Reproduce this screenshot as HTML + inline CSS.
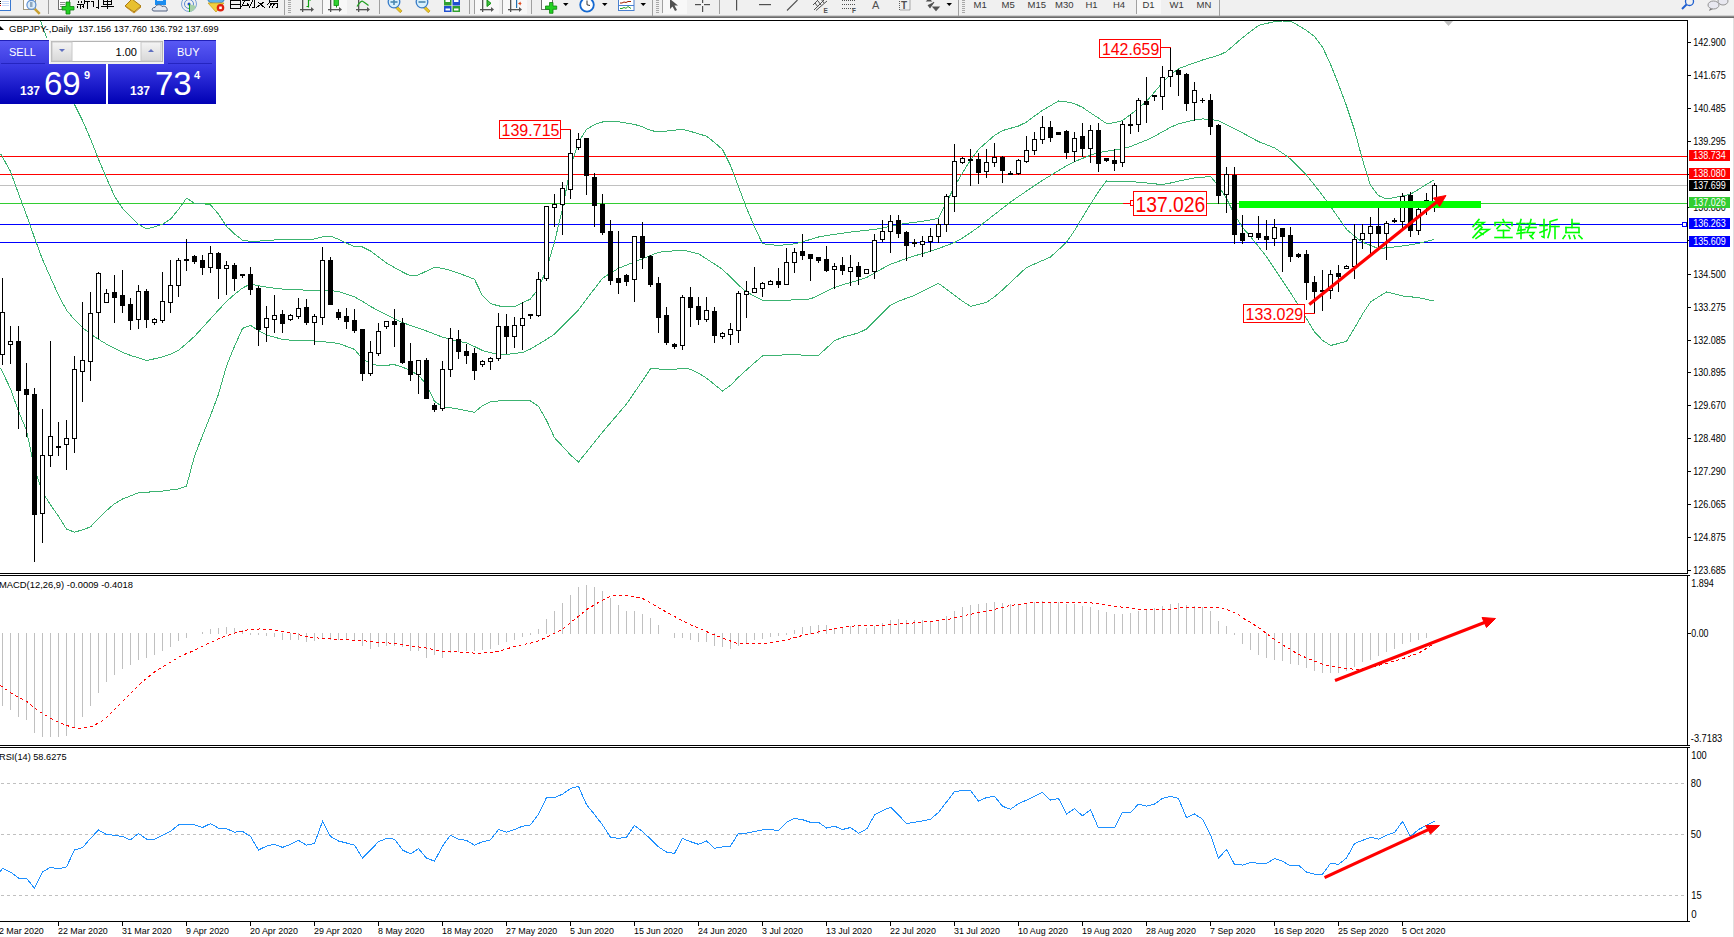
<!DOCTYPE html><html><head><meta charset="utf-8"><title>GBPJPY Daily</title><style>
html,body{margin:0;padding:0;width:1734px;height:937px;overflow:hidden;background:#fff;}
svg{position:absolute;left:0;top:0;display:block}
text{font-family:"Liberation Sans",sans-serif}
</style></head><body>
<svg width="1734" height="937" viewBox="0 0 1734 937">
<defs><linearGradient id="gSell" x1="0" y1="0" x2="0" y2="1"><stop offset="0" stop-color="#5a5af5"/><stop offset="1" stop-color="#3a3ae0"/></linearGradient><linearGradient id="gPrice" x1="0" y1="0" x2="0" y2="1"><stop offset="0" stop-color="#3c3ce6"/><stop offset="1" stop-color="#0000b4"/></linearGradient><linearGradient id="gBtn" x1="0" y1="0" x2="0" y2="1"><stop offset="0" stop-color="#f4f4f4"/><stop offset="1" stop-color="#d8d8d8"/></linearGradient></defs>
<rect x="0" y="0" width="1734" height="15" fill="#f0f0f0"/>
<rect x="0" y="15" width="1734" height="1" fill="#d0d0d0"/>
<rect x="0" y="16" width="1734" height="1" fill="#8c8c8c"/>
<rect x="0" y="17" width="1734" height="1" fill="#6a6a6a"/>
<rect x="-1" y="-4" width="11.5" height="14.5" fill="#fff" stroke="#3a78d0" stroke-width="1"/>
<rect x="2" y="1.0" width="7" height="1" fill="#c8d8f8"/>
<rect x="2" y="3.0" width="7" height="1" fill="#c8d8f8"/>
<rect x="2" y="5.0" width="7" height="1" fill="#c8d8f8"/>
<rect x="0" y="1" width="1" height="1" fill="#000"/><rect x="0" y="3" width="1" height="1" fill="#000"/><rect x="0" y="5" width="1" height="1" fill="#f00"/>
<rect x="23.5" y="-3.5" width="12" height="13" fill="#fff" stroke="#a09880" stroke-width="1"/>
<rect x="36" y="8" width="2.5" height="7" fill="#c8a030" transform="rotate(-45 37.2 11.5)"/>
<circle cx="31.4" cy="4.8" r="4.5" fill="#dcecf8" stroke="#6090d0" stroke-width="1.2"/>
<rect x="30" y="2" width="2.5" height="5" fill="#90a8c0"/>
<rect x="48" y="0" width="1" height="14" fill="#a0a0a0"/>
<rect x="58.5" y="-3.5" width="11" height="13" fill="#fff" stroke="#707070" stroke-width="1"/>
<rect x="60" y="2" width="5" height="1" fill="#909090"/>
<rect x="60" y="4" width="5" height="1" fill="#909090"/>
<rect x="60" y="6" width="5" height="1" fill="#909090"/>
<path d="M66,2 h4 v4.5 h4 v3.5 h-4 v4 h-4 v-4 h-4 v-3.5 h4 z" fill="#22d022" stroke="#108010" stroke-width="0.8"/>
<g transform="translate(77,0) scale(1.0)" fill="none" stroke="#000000" stroke-width="1.0" stroke-linecap="square" shape-rendering="crispEdges"><path d="M2,-3 L4,-3"/><path d="M0,-1 L6,-1"/><path d="M1,1 L2,3"/><path d="M5,1 L4,3"/><path d="M0,4 L6,4"/><path d="M3,4 L3,8"/><path d="M1,6 L0,8"/><path d="M5,6 L6,7"/><path d="M11,-4 L7,-2 L7,4 L6,8"/><path d="M7,1 L12,1"/><path d="M10,1 L10,8"/></g>
<g transform="translate(91,0) scale(1.0)" fill="none" stroke="#000000" stroke-width="1.0" stroke-linecap="square" shape-rendering="crispEdges"><path d="M1,-3 L2,-2"/><path d="M0,1 L2,1 L2,7 L3,6"/><path d="M4,-2 L10,-2"/><path d="M7,-2 L7,8 L5,7"/></g>
<g transform="translate(101,0) scale(1.0)" fill="none" stroke="#000000" stroke-width="1.0" stroke-linecap="square" shape-rendering="crispEdges"><path d="M2,-2 L10,-2 L10,4 L2,4 Z"/><path d="M2,1 L10,1"/><path d="M6,-2 L6,8"/><path d="M0,6 L12,6"/></g>
<path d="M125,6 L132,-1 L141,6 L134,12 Z" fill="#e8c030" stroke="#a87810" stroke-width="1"/>
<path d="M126,7 L134,13 L141,7" fill="none" stroke="#c89020" stroke-width="1"/>
<rect x="155" y="-4" width="11" height="9" fill="#1a8cf0"/>
<rect x="157" y="0" width="6" height="1" fill="#d0e8ff"/>
<path d="M154,11 C151,11 152,7 155,7.5 C156,4 161,4 162,6.5 C165,5 168,8 167,11 Z" fill="#e4e8f0" stroke="#506080" stroke-width="1"/>
<circle cx="189" cy="4" r="7.5" fill="none" stroke="#7aa0d8" stroke-width="1"/>
<circle cx="189" cy="4" r="4.5" fill="none" stroke="#5a88d0" stroke-width="1"/>
<path d="M189,4 L189,12 A8,8 0 0 0 196,6 Z" fill="#a8d0a8"/>
<circle cx="189" cy="4" r="1.5" fill="#2050d0"/>
<rect x="189" y="4" width="1" height="8" fill="#20a020"/>
<ellipse cx="216" cy="0" rx="8" ry="3.5" fill="#60b0e8" stroke="#3080c0" stroke-width="1"/>
<path d="M208,3 L224,3 L216,12 Z" fill="#f0d040" stroke="#c8a020" stroke-width="0.8"/>
<circle cx="220.5" cy="7.8" r="3.8" fill="#e02010"/>
<rect x="219.2" y="6.5" width="2.6" height="2.6" fill="#fff"/>
<g transform="translate(229,0) scale(1.0)" fill="none" stroke="#000000" stroke-width="1.0" stroke-linecap="square" shape-rendering="crispEdges"><path d="M1,-3 L11,-3 L11,8 L1,8 Z"/><path d="M1,0.5 L11,0.5"/><path d="M1,4 L11,4"/></g>
<g transform="translate(242,0) scale(1.0)" fill="none" stroke="#000000" stroke-width="1.0" stroke-linecap="square" shape-rendering="crispEdges"><path d="M1,-3 L6,-3"/><path d="M0,0 L7,0"/><path d="M3,0 L0,6 L6,5"/><path d="M5,3 L7,6"/><path d="M8,-1 L12,-1 L12,7 L10,7"/><path d="M10,-4 L10,2 L7,8"/></g>
<g transform="translate(255,0) scale(1.0)" fill="none" stroke="#000000" stroke-width="1.0" stroke-linecap="square" shape-rendering="crispEdges"><path d="M0,-3 L12,-3"/><path d="M4,-2 L2,0"/><path d="M8,-2 L10,0"/><path d="M3,2 L10,8"/><path d="M9,2 L1,8"/></g>
<g transform="translate(267,0) scale(1.0)" fill="none" stroke="#000000" stroke-width="1.0" stroke-linecap="square" shape-rendering="crispEdges"><path d="M2,-4 L10,-4 L10,1 L2,1 Z"/><path d="M4,1 L0,5"/><path d="M3,3 L11,3 L10,8 L9,7"/><path d="M5,3 L2,8"/><path d="M8,3 L5,8"/></g>
<rect x="284" y="0" width="1" height="15" fill="#a0a0a0"/>
<rect x="288" y="0" width="3" height="1" fill="#a8a8a8"/><rect x="288" y="2" width="3" height="1" fill="#a8a8a8"/><rect x="288" y="4" width="3" height="1" fill="#a8a8a8"/><rect x="288" y="6" width="3" height="1" fill="#a8a8a8"/><rect x="288" y="8" width="3" height="1" fill="#a8a8a8"/><rect x="288" y="10" width="3" height="1" fill="#a8a8a8"/><rect x="288" y="12" width="3" height="1" fill="#a8a8a8"/>
<rect x="302" y="-1" width="1.3" height="13" fill="#555555"/><rect x="300" y="9" width="12" height="1.3" fill="#555555"/><path d="M311,7 L314,9.6 L311,12 Z" fill="#555555"/>
<path d="M306.5,6.5 L308.5,6.5 M308.5,7.5 L308.5,0 L311,0" fill="none" stroke="#10a010" stroke-width="1.2"/>
<rect x="323" y="0" width="24" height="14" fill="#f8f8f8"/>
<rect x="322" y="0" width="1" height="14" fill="#a0a0a0"/>
<rect x="330" y="-1" width="1.3" height="13" fill="#555555"/><rect x="328" y="9" width="12" height="1.3" fill="#555555"/><path d="M339,7 L342,9.6 L339,12 Z" fill="#555555"/>
<rect x="334" y="-2" width="4.5" height="7.5" fill="#30d030" stroke="#109010" stroke-width="0.8"/><rect x="336" y="5" width="1" height="2.5" fill="#109010"/>
<rect x="358" y="-1" width="1.3" height="13" fill="#555555"/><rect x="356" y="9" width="12" height="1.3" fill="#555555"/><path d="M367,7 L370,9.6 L367,12 Z" fill="#555555"/>
<path d="M357,6.5 Q361,0 363,1.5 Q366,3.5 368.5,5.5" fill="none" stroke="#20a020" stroke-width="1.2"/>
<rect x="379" y="0" width="1" height="14" fill="#a0a0a0"/>
<rect x="397" y="5" width="2.6" height="8" fill="#e8c820" stroke="#b08010" stroke-width="0.6" transform="rotate(-45 398.3 9)"/>
<circle cx="394" cy="2" r="5.8" fill="#d8f0fc" stroke="#3a7cc8" stroke-width="1.3"/>
<rect x="390.5" y="1.2" width="7" height="1.6" fill="#4a88b0"/>
<rect x="393.2" y="-2" width="1.6" height="7" fill="#4a88b0"/>
<rect x="425" y="5" width="2.6" height="8" fill="#e8c820" stroke="#b08010" stroke-width="0.6" transform="rotate(-45 426.3 9)"/>
<circle cx="422" cy="2" r="5.8" fill="#d8f0fc" stroke="#3a7cc8" stroke-width="1.3"/>
<rect x="418.5" y="1.2" width="7" height="1.6" fill="#4a88b0"/>
<rect x="444" y="-3" width="7.5" height="8.5" fill="#30a030"/><rect x="452.5" y="-3" width="7.5" height="8.5" fill="#2050d0"/>
<rect x="444" y="6" width="7.5" height="6" fill="#2050d0"/><rect x="452.5" y="6" width="7.5" height="6" fill="#30a030"/>
<rect x="445.5" y="8.5" width="4.5" height="2" fill="#fff"/><rect x="454" y="8.5" width="4.5" height="2" fill="#fff"/><rect x="445.5" y="0" width="4.5" height="2" fill="#fff"/><rect x="454" y="0" width="4.5" height="2" fill="#fff"/>
<rect x="469" y="0" width="1" height="14" fill="#a0a0a0"/>
<rect x="475" y="0" width="24" height="14" fill="#f8f8f8"/>
<rect x="474" y="0" width="1" height="14" fill="#a0a0a0"/>
<rect x="482" y="-1" width="1.3" height="13" fill="#555555"/><rect x="480" y="9" width="12" height="1.3" fill="#555555"/><path d="M491,7 L494,9.6 L491,12 Z" fill="#555555"/>
<path d="M487,0 L487,6.5 L491,3.3 Z" fill="#40c040" stroke="#109010" stroke-width="1"/>
<rect x="502" y="0" width="1" height="14" fill="#a0a0a0"/>
<rect x="503" y="0" width="24" height="14" fill="#f8f8f8"/>
<rect x="510" y="-1" width="1.3" height="13" fill="#555555"/><rect x="508" y="9" width="12" height="1.3" fill="#555555"/><path d="M519,7 L522,9.6 L519,12 Z" fill="#555555"/>
<rect x="516" y="-1" width="1.2" height="9" fill="#2070b0"/><path d="M518,3.5 L521,1.5 L520.5,3 L522,3.5 L520.5,4 L521,5.5 Z" fill="#e04010"/>
<rect x="531" y="0" width="1" height="14" fill="#a0a0a0"/>
<rect x="541.5" y="-3.5" width="11" height="13" fill="#fff" stroke="#707070" stroke-width="1"/>
<path d="M549.5,2.5 h3.5 v3.5 h3.7 v3.3 h-3.7 v4 h-3.5 v-4 h-4 v-3.3 h4 z" fill="#22d022" stroke="#108010" stroke-width="0.8"/>
<path d="M563,3 L568.5,3 L565.75,6 Z" fill="#000"/>
<circle cx="587" cy="4.8" r="6.8" fill="#fff" stroke="#1468d0" stroke-width="1.8"/>
<path d="M587,0.5 L587,4.8 L590,5.5" fill="none" stroke="#333" stroke-width="1"/>
<path d="M602,3 L607.5,3 L604.75,6 Z" fill="#000"/>
<rect x="618.5" y="-2.5" width="15.5" height="13" fill="#fff" stroke="#4a80d0" stroke-width="1"/>
<rect x="619" y="5" width="15" height="1" fill="#4a80d0"/>
<path d="M620,3 L622,3 L624,2 L626,2.5 L628,1.5 L631,1.5" fill="none" stroke="#a02000" stroke-width="1"/>
<path d="M620,8.5 L622,8.5 L624,7.5 L626,8.3 L628,6.5 L631,8.5" fill="none" stroke="#20a020" stroke-width="1"/>
<path d="M640.5,3 L646.0,3 L643.25,6 Z" fill="#000"/>
<rect x="652" y="0" width="1" height="16" fill="#a0a0a0"/>
<rect x="656" y="0" width="3" height="1" fill="#a8a8a8"/><rect x="656" y="2" width="3" height="1" fill="#a8a8a8"/><rect x="656" y="4" width="3" height="1" fill="#a8a8a8"/><rect x="656" y="6" width="3" height="1" fill="#a8a8a8"/><rect x="656" y="8" width="3" height="1" fill="#a8a8a8"/><rect x="656" y="10" width="3" height="1" fill="#a8a8a8"/><rect x="656" y="12" width="3" height="1" fill="#a8a8a8"/>
<rect x="663" y="0" width="24" height="14" fill="#f8f8f8"/>
<rect x="662" y="0" width="1" height="13" fill="#a0a0a0"/>
<path d="M670,-1 L670,9 L672.5,6.5 L675,11 L677,10 L674.5,5.5 L678,5.5 Z" fill="#505050"/>
<rect x="695" y="4" width="6" height="1.2" fill="#505050"/><rect x="704" y="4" width="6" height="1.2" fill="#505050"/>
<rect x="702" y="-1" width="1.2" height="4" fill="#505050"/><rect x="702" y="6" width="1.2" height="6" fill="#505050"/>
<rect x="719" y="0" width="1" height="14" fill="#a0a0a0"/>
<rect x="736" y="-1" width="1.2" height="11.5" fill="#505050"/>
<rect x="759" y="4" width="12" height="1.2" fill="#505050"/>
<path d="M787,10.5 L797.5,0" fill="none" stroke="#505050" stroke-width="1.1"/>
<path d="M813,5 L819,-1 M814,10 L825,-1 M816,10.5 L827,1 M815,3 L818,7 M818,1 L821,5 M821,-1 L824,3" fill="none" stroke="#505050" stroke-width="1"/>
<text x="823.5" y="13" font-size="6.5" font-weight="bold" fill="#505050">E</text>
<line x1="842" y1="0.5" x2="855" y2="0.5" stroke="#505050" stroke-width="1" stroke-dasharray="1,1"/>
<line x1="842" y1="4.5" x2="855" y2="4.5" stroke="#505050" stroke-width="1" stroke-dasharray="1,1"/>
<line x1="842" y1="8.5" x2="855" y2="8.5" stroke="#505050" stroke-width="1" stroke-dasharray="1,1"/>
<text x="852" y="13" font-size="6.5" font-weight="bold" fill="#505050">F</text>
<text x="872" y="9" font-size="11" fill="#505050">A</text>
<rect x="899.5" y="-1" width="10.5" height="11" fill="none" stroke="#606060" stroke-width="1" stroke-dasharray="1,1"/>
<text x="901" y="9" font-size="10" font-weight="bold" fill="#505050">T</text>
<path d="M927,1 L931,1 L929,-1 Z M928,5 L930,7.5 L934,2 M933,7 L939,7 L936,10.5 Z" fill="#505050" stroke="#505050" stroke-width="1.1"/>
<path d="M946.5,3 L952.0,3 L949.25,6 Z" fill="#000"/>
<rect x="958" y="0" width="1" height="16" fill="#a0a0a0"/>
<rect x="962" y="0" width="3" height="1" fill="#a8a8a8"/><rect x="962" y="2" width="3" height="1" fill="#a8a8a8"/><rect x="962" y="4" width="3" height="1" fill="#a8a8a8"/><rect x="962" y="6" width="3" height="1" fill="#a8a8a8"/><rect x="962" y="8" width="3" height="1" fill="#a8a8a8"/><rect x="962" y="10" width="3" height="1" fill="#a8a8a8"/><rect x="962" y="12" width="3" height="1" fill="#a8a8a8"/>
<text x="973.5" y="8" font-size="9.5" fill="#383838">M1</text>
<text x="1001.5" y="8" font-size="9.5" fill="#383838">M5</text>
<text x="1027.5" y="8" font-size="9.5" fill="#383838">M15</text>
<text x="1055" y="8" font-size="9.5" fill="#383838">M30</text>
<text x="1085.5" y="8" font-size="9.5" fill="#383838">H1</text>
<text x="1113" y="8" font-size="9.5" fill="#383838">H4</text>
<rect x="1136" y="0" width="1" height="14" fill="#a0a0a0"/>
<rect x="1137" y="0" width="24" height="14" fill="#f8f8f8"/>
<text x="1142.5" y="8" font-size="9.5" fill="#383838">D1</text>
<text x="1169.5" y="8" font-size="9.5" fill="#383838">W1</text>
<text x="1196.5" y="8" font-size="9.5" fill="#383838">MN</text>
<rect x="1219" y="0" width="1" height="16" fill="#a0a0a0"/>
<circle cx="1689.5" cy="1.5" r="4" fill="none" stroke="#2060d0" stroke-width="1.3"/>
<path d="M1686.5,4.5 L1682,9" fill="none" stroke="#2060d0" stroke-width="2"/>
<ellipse cx="1723" cy="1" rx="5" ry="4" fill="#e8e8f0" stroke="#888" stroke-width="0.9"/>
<ellipse cx="1713.5" cy="5" rx="5.5" ry="4" fill="#e8e8f0" stroke="#888" stroke-width="0.9"/>
<path d="M1710,8.5 L1709,11 L1713,9" fill="#777"/>
<rect x="1733" y="18" width="1" height="919" fill="#e0e0e0" shape-rendering="crispEdges"/>
<rect x="0" y="156" width="1687" height="1" fill="#ff0000" shape-rendering="crispEdges" />
<rect x="0" y="174" width="1687" height="1" fill="#ff0000" shape-rendering="crispEdges" />
<rect x="0" y="185" width="1687" height="1" fill="#c0c0c0" shape-rendering="crispEdges" />
<rect x="0" y="203" width="1687" height="1" fill="#32cd32" shape-rendering="crispEdges" />
<rect x="0" y="224" width="1687" height="1" fill="#0000ff" shape-rendering="crispEdges" />
<rect x="0" y="242" width="1687" height="1" fill="#0000ff" shape-rendering="crispEdges" />
<clipPath id="cMain"><rect x="0" y="21" width="1687" height="552"/></clipPath>
<g clip-path="url(#cMain)">
<polyline points="37.5,11.0 42.5,26.6 50.5,47.9 58.5,66.7 66.5,85.5 74.5,104.4 82.5,120.5 90.5,138.8 98.5,159.4 106.5,178.0 114.5,196.2 122.5,208.3 130.5,216.6 138.5,224.3 146.5,228.9 154.5,226.8 162.5,224.3 170.5,219.2 178.5,209.4 186.5,198.2 194.5,203.2 202.5,203.6 210.5,204.9 218.5,214.1 226.5,226.3 234.5,233.9 242.5,240.2 250.5,241.3 258.5,241.1 266.5,240.6 274.5,240.0 282.5,239.6 290.5,239.5 298.5,239.3 306.5,239.2 314.5,239.0 322.5,236.8 330.5,236.1 338.5,239.2 346.5,243.1 354.5,246.6 362.5,247.0 370.5,251.0 378.5,257.0 386.5,263.0 394.5,267.6 402.5,272.0 410.5,275.9 418.5,274.9 426.5,271.1 434.5,267.1 442.5,268.4 450.5,270.5 458.5,273.2 466.5,276.1 474.5,279.3 482.5,295.8 490.5,303.5 498.5,305.9 506.5,306.8 514.5,306.8 522.5,302.9 530.5,299.0 538.5,288.4 546.5,269.0 554.5,242.0 562.5,208.8 570.5,167.1 578.5,141.9 586.5,129.5 594.5,124.5 602.5,122.0 610.5,121.4 618.5,121.8 626.5,123.1 634.5,124.4 642.5,126.8 650.5,130.4 658.5,132.0 666.5,131.1 674.5,130.2 682.5,129.3 690.5,131.4 698.5,133.8 706.5,136.2 714.5,142.5 722.5,149.6 730.5,165.5 738.5,186.6 746.5,207.9 754.5,226.8 762.5,243.7 770.5,244.7 778.5,245.5 786.5,244.7 794.5,243.9 802.5,241.8 810.5,239.4 818.5,237.0 826.5,235.5 834.5,234.4 842.5,233.2 850.5,232.1 858.5,231.2 866.5,230.3 874.5,229.4 882.5,228.0 890.5,226.3 898.5,224.5 906.5,223.3 914.5,222.3 922.5,221.3 930.5,219.9 938.5,218.3 946.5,202.5 954.5,186.6 962.5,172.8 970.5,160.1 978.5,149.4 986.5,142.4 994.5,135.4 1002.5,130.6 1010.5,128.3 1018.5,126.0 1026.5,122.1 1034.5,116.1 1042.5,110.3 1050.5,105.7 1058.5,101.0 1066.5,101.9 1074.5,103.6 1082.5,107.4 1090.5,112.8 1098.5,118.1 1106.5,123.5 1114.5,122.8 1122.5,120.5 1130.5,114.6 1138.5,108.3 1146.5,101.3 1154.5,92.0 1162.5,82.7 1170.5,74.6 1178.5,68.7 1186.5,65.7 1194.5,62.8 1202.5,60.0 1210.5,57.7 1218.5,55.4 1226.5,51.6 1234.5,44.6 1242.5,37.7 1250.5,31.5 1258.5,25.4 1266.5,23.5 1274.5,21.6 1282.5,21.0 1290.5,21.0 1298.5,25.5 1306.5,30.4 1314.5,36.4 1322.5,47.0 1330.5,64.3 1338.5,84.3 1346.5,105.9 1354.5,130.0 1362.5,159.7 1370.5,185.4 1378.5,195.6 1386.5,198.9 1394.5,197.5 1402.5,195.9 1410.5,194.3 1418.5,189.4 1426.5,184.4 1434.5,179.6" fill="none" stroke="#3cb371" stroke-width="1" shape-rendering="crispEdges" />
<polyline points="0.5,153.8 2.5,157.1 10.5,171.5 18.5,193.6 26.5,215.1 34.5,237.8 42.5,259.4 50.5,277.5 58.5,295.4 66.5,310.1 74.5,319.7 82.5,327.6 90.5,334.0 98.5,339.3 106.5,344.1 114.5,348.3 122.5,352.3 130.5,355.4 138.5,357.9 146.5,360.5 154.5,358.8 162.5,356.8 170.5,354.2 178.5,350.2 186.5,343.6 194.5,336.4 202.5,327.6 210.5,318.8 218.5,310.0 226.5,301.5 234.5,294.4 242.5,288.1 250.5,283.9 258.5,285.8 266.5,287.1 274.5,288.2 282.5,289.1 290.5,289.5 298.5,289.8 306.5,290.2 314.5,290.5 322.5,290.6 330.5,290.6 338.5,291.5 346.5,294.1 354.5,296.8 362.5,301.4 370.5,306.4 378.5,310.8 386.5,314.8 394.5,318.8 402.5,322.6 410.5,325.4 418.5,328.2 426.5,331.0 434.5,334.1 442.5,337.1 450.5,339.4 458.5,341.2 466.5,342.9 474.5,346.5 482.5,350.5 490.5,352.8 498.5,353.9 506.5,354.5 514.5,353.5 522.5,352.5 530.5,349.0 538.5,344.2 546.5,339.4 554.5,334.2 562.5,326.2 570.5,318.2 578.5,310.0 586.5,299.3 594.5,288.7 602.5,278.2 610.5,273.2 618.5,268.3 626.5,265.1 634.5,261.9 642.5,258.7 650.5,255.5 658.5,252.3 666.5,251.4 674.5,250.8 682.5,250.1 690.5,251.8 698.5,253.8 706.5,258.8 714.5,264.1 722.5,269.4 730.5,277.0 738.5,285.0 746.5,291.9 754.5,296.2 762.5,300.3 770.5,300.3 778.5,300.3 786.5,300.3 794.5,299.8 802.5,299.4 810.5,298.9 818.5,295.4 826.5,291.4 834.5,287.4 842.5,284.7 850.5,282.5 858.5,280.3 866.5,277.5 874.5,273.0 882.5,268.5 890.5,264.3 898.5,261.4 906.5,258.5 914.5,255.9 922.5,253.6 930.5,251.3 938.5,248.5 946.5,245.5 954.5,242.5 962.5,238.0 970.5,232.7 978.5,227.0 986.5,220.8 994.5,214.5 1002.5,208.3 1010.5,202.0 1018.5,196.5 1026.5,191.1 1034.5,185.6 1042.5,180.3 1050.5,175.5 1058.5,170.6 1066.5,165.8 1074.5,161.6 1082.5,158.4 1090.5,155.2 1098.5,152.6 1106.5,151.3 1114.5,150.0 1122.5,148.7 1130.5,146.5 1138.5,143.3 1146.5,140.1 1154.5,136.3 1162.5,131.8 1170.5,127.3 1178.5,123.8 1186.5,121.8 1194.5,119.8 1202.5,118.9 1210.5,119.6 1218.5,120.6 1226.5,124.6 1234.5,128.6 1242.5,132.9 1250.5,137.2 1258.5,141.6 1266.5,144.7 1274.5,147.9 1282.5,153.1 1290.5,159.1 1298.5,166.9 1306.5,175.1 1314.5,185.1 1322.5,195.4 1330.5,206.4 1338.5,217.8 1346.5,229.3 1354.5,236.3 1362.5,242.2 1370.5,245.4 1378.5,248.6 1386.5,247.8 1394.5,247.0 1402.5,245.9 1410.5,244.8 1418.5,243.3 1426.5,241.4 1434.5,239.5" fill="none" stroke="#3cb371" stroke-width="1" shape-rendering="crispEdges" />
<polyline points="0.5,368.2 2.5,372.2 10.5,388.7 18.5,411.3 26.5,430.3 34.5,468.9 42.5,492.1 50.5,504.8 58.5,516.3 66.5,529.1 74.5,532.1 82.5,529.9 90.5,526.9 98.5,518.2 106.5,510.6 114.5,503.7 122.5,499.0 130.5,495.9 138.5,492.8 146.5,492.2 154.5,491.7 162.5,491.1 170.5,490.0 178.5,488.9 186.5,486.0 194.5,456.1 202.5,435.6 210.5,415.5 218.5,394.2 226.5,365.9 234.5,346.3 242.5,328.4 250.5,325.4 258.5,330.5 266.5,335.0 274.5,337.2 282.5,339.4 290.5,340.1 298.5,340.4 306.5,340.7 314.5,341.0 322.5,341.7 330.5,342.5 338.5,343.4 346.5,346.4 354.5,349.4 362.5,358.9 370.5,363.7 378.5,365.7 386.5,365.2 394.5,364.7 402.5,367.2 410.5,370.6 418.5,375.3 426.5,384.8 434.5,401.4 442.5,406.7 450.5,407.8 458.5,409.1 466.5,410.7 474.5,412.2 482.5,405.7 490.5,401.9 498.5,400.9 506.5,400.7 514.5,400.5 522.5,400.3 530.5,401.0 538.5,406.3 546.5,420.3 554.5,437.7 562.5,446.3 570.5,455.0 578.5,462.0 586.5,452.1 594.5,442.1 602.5,432.1 610.5,422.8 618.5,413.4 626.5,404.1 634.5,392.4 642.5,380.7 650.5,368.9 658.5,369.0 666.5,369.4 674.5,369.3 682.5,368.2 690.5,369.2 698.5,373.2 706.5,378.1 714.5,384.5 722.5,391.0 730.5,385.3 738.5,377.2 746.5,369.9 754.5,362.8 762.5,356.0 770.5,355.6 778.5,355.2 786.5,354.8 794.5,354.6 802.5,355.1 810.5,355.6 818.5,355.4 826.5,348.1 834.5,340.7 842.5,337.3 850.5,335.1 858.5,332.9 866.5,329.1 874.5,321.1 882.5,313.1 890.5,305.1 898.5,301.2 906.5,298.3 914.5,295.3 922.5,291.3 930.5,287.4 938.5,283.4 946.5,289.2 954.5,295.2 962.5,301.2 970.5,306.3 978.5,304.3 986.5,302.3 994.5,296.8 1002.5,289.9 1010.5,282.4 1018.5,274.9 1026.5,267.5 1034.5,264.0 1042.5,260.5 1050.5,257.0 1058.5,249.7 1066.5,242.3 1074.5,230.6 1082.5,217.2 1090.5,204.2 1098.5,191.6 1106.5,181.0 1114.5,181.2 1122.5,181.4 1130.5,181.6 1138.5,182.2 1146.5,183.0 1154.5,183.8 1162.5,184.6 1170.5,183.0 1178.5,181.2 1186.5,179.5 1194.5,177.9 1202.5,177.2 1210.5,176.5 1218.5,185.8 1226.5,198.5 1234.5,214.6 1242.5,227.5 1250.5,236.6 1258.5,246.5 1266.5,256.8 1274.5,268.7 1282.5,280.6 1290.5,292.7 1298.5,305.4 1306.5,318.7 1314.5,332.0 1322.5,340.3 1330.5,345.5 1338.5,343.5 1346.5,341.4 1354.5,328.1 1362.5,314.1 1370.5,302.1 1378.5,296.8 1386.5,292.0 1394.5,293.8 1402.5,296.0 1410.5,296.8 1418.5,297.6 1426.5,299.4 1434.5,301.2" fill="none" stroke="#3cb371" stroke-width="1" shape-rendering="crispEdges" />
</g>
<rect x="2" y="278" width="1" height="87" fill="#000" shape-rendering="crispEdges"/>
<rect x="0" y="312" width="5" height="43" fill="#000" shape-rendering="crispEdges"/>
<rect x="1" y="313" width="3" height="41" fill="#fff" shape-rendering="crispEdges"/>
<rect x="10" y="326" width="1" height="38" fill="#000" shape-rendering="crispEdges"/>
<rect x="8" y="341" width="5" height="4" fill="#000" shape-rendering="crispEdges"/>
<rect x="9" y="342" width="3" height="2" fill="#fff" shape-rendering="crispEdges"/>
<rect x="18" y="326" width="1" height="103" fill="#000" shape-rendering="crispEdges"/>
<rect x="16" y="341" width="5" height="50" fill="#000" shape-rendering="crispEdges"/>
<rect x="26" y="363" width="1" height="74" fill="#000" shape-rendering="crispEdges"/>
<rect x="24" y="389" width="5" height="6" fill="#000" shape-rendering="crispEdges"/>
<rect x="34" y="388" width="1" height="174" fill="#000" shape-rendering="crispEdges"/>
<rect x="32" y="394" width="5" height="121" fill="#000" shape-rendering="crispEdges"/>
<rect x="42" y="409" width="1" height="134" fill="#000" shape-rendering="crispEdges"/>
<rect x="40" y="455" width="5" height="59" fill="#000" shape-rendering="crispEdges"/>
<rect x="41" y="456" width="3" height="57" fill="#fff" shape-rendering="crispEdges"/>
<rect x="50" y="341" width="1" height="126" fill="#000" shape-rendering="crispEdges"/>
<rect x="48" y="436" width="5" height="20" fill="#000" shape-rendering="crispEdges"/>
<rect x="49" y="437" width="3" height="18" fill="#fff" shape-rendering="crispEdges"/>
<rect x="58" y="422" width="1" height="34" fill="#000" shape-rendering="crispEdges"/>
<rect x="56" y="446" width="5" height="2" fill="#000" shape-rendering="crispEdges"/>
<rect x="66" y="420" width="1" height="50" fill="#000" shape-rendering="crispEdges"/>
<rect x="64" y="438" width="5" height="7" fill="#000" shape-rendering="crispEdges"/>
<rect x="65" y="439" width="3" height="5" fill="#fff" shape-rendering="crispEdges"/>
<rect x="74" y="356" width="1" height="97" fill="#000" shape-rendering="crispEdges"/>
<rect x="72" y="369" width="5" height="70" fill="#000" shape-rendering="crispEdges"/>
<rect x="73" y="370" width="3" height="68" fill="#fff" shape-rendering="crispEdges"/>
<rect x="82" y="302" width="1" height="100" fill="#000" shape-rendering="crispEdges"/>
<rect x="80" y="360" width="5" height="12" fill="#000" shape-rendering="crispEdges"/>
<rect x="81" y="361" width="3" height="10" fill="#fff" shape-rendering="crispEdges"/>
<rect x="90" y="292" width="1" height="89" fill="#000" shape-rendering="crispEdges"/>
<rect x="88" y="313" width="5" height="49" fill="#000" shape-rendering="crispEdges"/>
<rect x="89" y="314" width="3" height="47" fill="#fff" shape-rendering="crispEdges"/>
<rect x="98" y="272" width="1" height="67" fill="#000" shape-rendering="crispEdges"/>
<rect x="96" y="273" width="5" height="40" fill="#000" shape-rendering="crispEdges"/>
<rect x="97" y="274" width="3" height="38" fill="#fff" shape-rendering="crispEdges"/>
<rect x="106" y="289" width="1" height="14" fill="#000" shape-rendering="crispEdges"/>
<rect x="104" y="293" width="5" height="10" fill="#000" shape-rendering="crispEdges"/>
<rect x="105" y="294" width="3" height="8" fill="#fff" shape-rendering="crispEdges"/>
<rect x="114" y="275" width="1" height="48" fill="#000" shape-rendering="crispEdges"/>
<rect x="112" y="292" width="5" height="6" fill="#000" shape-rendering="crispEdges"/>
<rect x="122" y="270" width="1" height="43" fill="#000" shape-rendering="crispEdges"/>
<rect x="120" y="295" width="5" height="11" fill="#000" shape-rendering="crispEdges"/>
<rect x="130" y="298" width="1" height="32" fill="#000" shape-rendering="crispEdges"/>
<rect x="128" y="304" width="5" height="17" fill="#000" shape-rendering="crispEdges"/>
<rect x="138" y="285" width="1" height="44" fill="#000" shape-rendering="crispEdges"/>
<rect x="136" y="291" width="5" height="29" fill="#000" shape-rendering="crispEdges"/>
<rect x="137" y="292" width="3" height="27" fill="#fff" shape-rendering="crispEdges"/>
<rect x="146" y="289" width="1" height="39" fill="#000" shape-rendering="crispEdges"/>
<rect x="144" y="291" width="5" height="29" fill="#000" shape-rendering="crispEdges"/>
<rect x="154" y="318" width="1" height="7" fill="#000" shape-rendering="crispEdges"/>
<rect x="152" y="319" width="5" height="4" fill="#000" shape-rendering="crispEdges"/>
<rect x="153" y="320" width="3" height="2" fill="#fff" shape-rendering="crispEdges"/>
<rect x="162" y="272" width="1" height="51" fill="#000" shape-rendering="crispEdges"/>
<rect x="160" y="301" width="5" height="20" fill="#000" shape-rendering="crispEdges"/>
<rect x="161" y="302" width="3" height="18" fill="#fff" shape-rendering="crispEdges"/>
<rect x="170" y="260" width="1" height="53" fill="#000" shape-rendering="crispEdges"/>
<rect x="168" y="285" width="5" height="18" fill="#000" shape-rendering="crispEdges"/>
<rect x="169" y="286" width="3" height="16" fill="#fff" shape-rendering="crispEdges"/>
<rect x="178" y="258" width="1" height="39" fill="#000" shape-rendering="crispEdges"/>
<rect x="176" y="260" width="5" height="26" fill="#000" shape-rendering="crispEdges"/>
<rect x="177" y="261" width="3" height="24" fill="#fff" shape-rendering="crispEdges"/>
<rect x="186" y="239" width="1" height="32" fill="#000" shape-rendering="crispEdges"/>
<rect x="184" y="259" width="5" height="2" fill="#000" shape-rendering="crispEdges"/>
<rect x="194" y="255" width="1" height="9" fill="#000" shape-rendering="crispEdges"/>
<rect x="192" y="256" width="5" height="6" fill="#000" shape-rendering="crispEdges"/>
<rect x="202" y="255" width="1" height="20" fill="#000" shape-rendering="crispEdges"/>
<rect x="200" y="260" width="5" height="8" fill="#000" shape-rendering="crispEdges"/>
<rect x="210" y="246" width="1" height="27" fill="#000" shape-rendering="crispEdges"/>
<rect x="208" y="253" width="5" height="15" fill="#000" shape-rendering="crispEdges"/>
<rect x="209" y="254" width="3" height="13" fill="#fff" shape-rendering="crispEdges"/>
<rect x="218" y="252" width="1" height="47" fill="#000" shape-rendering="crispEdges"/>
<rect x="216" y="253" width="5" height="16" fill="#000" shape-rendering="crispEdges"/>
<rect x="226" y="261" width="1" height="34" fill="#000" shape-rendering="crispEdges"/>
<rect x="224" y="265" width="5" height="4" fill="#000" shape-rendering="crispEdges"/>
<rect x="225" y="266" width="3" height="2" fill="#fff" shape-rendering="crispEdges"/>
<rect x="234" y="263" width="1" height="28" fill="#000" shape-rendering="crispEdges"/>
<rect x="232" y="265" width="5" height="14" fill="#000" shape-rendering="crispEdges"/>
<rect x="242" y="274" width="1" height="4" fill="#000" shape-rendering="crispEdges"/>
<rect x="240" y="274" width="5" height="2" fill="#000" shape-rendering="crispEdges"/>
<rect x="250" y="267" width="1" height="28" fill="#000" shape-rendering="crispEdges"/>
<rect x="248" y="274" width="5" height="16" fill="#000" shape-rendering="crispEdges"/>
<rect x="258" y="286" width="1" height="60" fill="#000" shape-rendering="crispEdges"/>
<rect x="256" y="288" width="5" height="42" fill="#000" shape-rendering="crispEdges"/>
<rect x="266" y="306" width="1" height="36" fill="#000" shape-rendering="crispEdges"/>
<rect x="264" y="318" width="5" height="10" fill="#000" shape-rendering="crispEdges"/>
<rect x="265" y="319" width="3" height="8" fill="#fff" shape-rendering="crispEdges"/>
<rect x="274" y="295" width="1" height="38" fill="#000" shape-rendering="crispEdges"/>
<rect x="272" y="315" width="5" height="5" fill="#000" shape-rendering="crispEdges"/>
<rect x="273" y="316" width="3" height="3" fill="#fff" shape-rendering="crispEdges"/>
<rect x="282" y="310" width="1" height="23" fill="#000" shape-rendering="crispEdges"/>
<rect x="280" y="314" width="5" height="10" fill="#000" shape-rendering="crispEdges"/>
<rect x="290" y="314" width="1" height="7" fill="#000" shape-rendering="crispEdges"/>
<rect x="288" y="315" width="5" height="5" fill="#000" shape-rendering="crispEdges"/>
<rect x="289" y="316" width="3" height="3" fill="#fff" shape-rendering="crispEdges"/>
<rect x="298" y="298" width="1" height="21" fill="#000" shape-rendering="crispEdges"/>
<rect x="296" y="308" width="5" height="9" fill="#000" shape-rendering="crispEdges"/>
<rect x="297" y="309" width="3" height="7" fill="#fff" shape-rendering="crispEdges"/>
<rect x="306" y="299" width="1" height="26" fill="#000" shape-rendering="crispEdges"/>
<rect x="304" y="307" width="5" height="16" fill="#000" shape-rendering="crispEdges"/>
<rect x="314" y="314" width="1" height="31" fill="#000" shape-rendering="crispEdges"/>
<rect x="312" y="316" width="5" height="7" fill="#000" shape-rendering="crispEdges"/>
<rect x="313" y="317" width="3" height="5" fill="#fff" shape-rendering="crispEdges"/>
<rect x="322" y="247" width="1" height="78" fill="#000" shape-rendering="crispEdges"/>
<rect x="320" y="260" width="5" height="58" fill="#000" shape-rendering="crispEdges"/>
<rect x="321" y="261" width="3" height="56" fill="#fff" shape-rendering="crispEdges"/>
<rect x="330" y="257" width="1" height="48" fill="#000" shape-rendering="crispEdges"/>
<rect x="328" y="260" width="5" height="45" fill="#000" shape-rendering="crispEdges"/>
<rect x="338" y="309" width="1" height="11" fill="#000" shape-rendering="crispEdges"/>
<rect x="336" y="312" width="5" height="6" fill="#000" shape-rendering="crispEdges"/>
<rect x="346" y="308" width="1" height="21" fill="#000" shape-rendering="crispEdges"/>
<rect x="344" y="316" width="5" height="6" fill="#000" shape-rendering="crispEdges"/>
<rect x="354" y="309" width="1" height="24" fill="#000" shape-rendering="crispEdges"/>
<rect x="352" y="320" width="5" height="11" fill="#000" shape-rendering="crispEdges"/>
<rect x="362" y="329" width="1" height="52" fill="#000" shape-rendering="crispEdges"/>
<rect x="360" y="329" width="5" height="45" fill="#000" shape-rendering="crispEdges"/>
<rect x="370" y="341" width="1" height="35" fill="#000" shape-rendering="crispEdges"/>
<rect x="368" y="352" width="5" height="22" fill="#000" shape-rendering="crispEdges"/>
<rect x="369" y="353" width="3" height="20" fill="#fff" shape-rendering="crispEdges"/>
<rect x="378" y="323" width="1" height="33" fill="#000" shape-rendering="crispEdges"/>
<rect x="376" y="331" width="5" height="23" fill="#000" shape-rendering="crispEdges"/>
<rect x="377" y="332" width="3" height="21" fill="#fff" shape-rendering="crispEdges"/>
<rect x="386" y="322" width="1" height="7" fill="#000" shape-rendering="crispEdges"/>
<rect x="384" y="321" width="5" height="6" fill="#000" shape-rendering="crispEdges"/>
<rect x="385" y="322" width="3" height="4" fill="#fff" shape-rendering="crispEdges"/>
<rect x="394" y="309" width="1" height="38" fill="#000" shape-rendering="crispEdges"/>
<rect x="392" y="321" width="5" height="4" fill="#000" shape-rendering="crispEdges"/>
<rect x="402" y="318" width="1" height="46" fill="#000" shape-rendering="crispEdges"/>
<rect x="400" y="323" width="5" height="40" fill="#000" shape-rendering="crispEdges"/>
<rect x="410" y="343" width="1" height="38" fill="#000" shape-rendering="crispEdges"/>
<rect x="408" y="361" width="5" height="14" fill="#000" shape-rendering="crispEdges"/>
<rect x="418" y="360" width="1" height="34" fill="#000" shape-rendering="crispEdges"/>
<rect x="416" y="360" width="5" height="15" fill="#000" shape-rendering="crispEdges"/>
<rect x="417" y="361" width="3" height="13" fill="#fff" shape-rendering="crispEdges"/>
<rect x="426" y="358" width="1" height="41" fill="#000" shape-rendering="crispEdges"/>
<rect x="424" y="360" width="5" height="39" fill="#000" shape-rendering="crispEdges"/>
<rect x="434" y="403" width="1" height="9" fill="#000" shape-rendering="crispEdges"/>
<rect x="432" y="405" width="5" height="5" fill="#000" shape-rendering="crispEdges"/>
<rect x="442" y="361" width="1" height="50" fill="#000" shape-rendering="crispEdges"/>
<rect x="440" y="369" width="5" height="40" fill="#000" shape-rendering="crispEdges"/>
<rect x="441" y="370" width="3" height="38" fill="#fff" shape-rendering="crispEdges"/>
<rect x="450" y="328" width="1" height="49" fill="#000" shape-rendering="crispEdges"/>
<rect x="448" y="338" width="5" height="32" fill="#000" shape-rendering="crispEdges"/>
<rect x="449" y="339" width="3" height="30" fill="#fff" shape-rendering="crispEdges"/>
<rect x="458" y="330" width="1" height="29" fill="#000" shape-rendering="crispEdges"/>
<rect x="456" y="339" width="5" height="13" fill="#000" shape-rendering="crispEdges"/>
<rect x="466" y="344" width="1" height="20" fill="#000" shape-rendering="crispEdges"/>
<rect x="464" y="351" width="5" height="5" fill="#000" shape-rendering="crispEdges"/>
<rect x="474" y="348" width="1" height="32" fill="#000" shape-rendering="crispEdges"/>
<rect x="472" y="353" width="5" height="18" fill="#000" shape-rendering="crispEdges"/>
<rect x="482" y="360" width="1" height="7" fill="#000" shape-rendering="crispEdges"/>
<rect x="480" y="361" width="5" height="4" fill="#000" shape-rendering="crispEdges"/>
<rect x="481" y="362" width="3" height="2" fill="#fff" shape-rendering="crispEdges"/>
<rect x="490" y="357" width="1" height="13" fill="#000" shape-rendering="crispEdges"/>
<rect x="488" y="358" width="5" height="4" fill="#000" shape-rendering="crispEdges"/>
<rect x="489" y="359" width="3" height="2" fill="#fff" shape-rendering="crispEdges"/>
<rect x="498" y="313" width="1" height="48" fill="#000" shape-rendering="crispEdges"/>
<rect x="496" y="326" width="5" height="33" fill="#000" shape-rendering="crispEdges"/>
<rect x="497" y="327" width="3" height="31" fill="#fff" shape-rendering="crispEdges"/>
<rect x="506" y="314" width="1" height="40" fill="#000" shape-rendering="crispEdges"/>
<rect x="504" y="326" width="5" height="11" fill="#000" shape-rendering="crispEdges"/>
<rect x="514" y="317" width="1" height="31" fill="#000" shape-rendering="crispEdges"/>
<rect x="512" y="325" width="5" height="12" fill="#000" shape-rendering="crispEdges"/>
<rect x="513" y="326" width="3" height="10" fill="#fff" shape-rendering="crispEdges"/>
<rect x="522" y="302" width="1" height="48" fill="#000" shape-rendering="crispEdges"/>
<rect x="520" y="318" width="5" height="8" fill="#000" shape-rendering="crispEdges"/>
<rect x="521" y="319" width="3" height="6" fill="#fff" shape-rendering="crispEdges"/>
<rect x="530" y="314" width="1" height="5" fill="#000" shape-rendering="crispEdges"/>
<rect x="528" y="314" width="5" height="2" fill="#000" shape-rendering="crispEdges"/>
<rect x="538" y="272" width="1" height="45" fill="#000" shape-rendering="crispEdges"/>
<rect x="536" y="279" width="5" height="37" fill="#000" shape-rendering="crispEdges"/>
<rect x="537" y="280" width="3" height="35" fill="#fff" shape-rendering="crispEdges"/>
<rect x="546" y="206" width="1" height="75" fill="#000" shape-rendering="crispEdges"/>
<rect x="544" y="206" width="5" height="73" fill="#000" shape-rendering="crispEdges"/>
<rect x="545" y="207" width="3" height="71" fill="#fff" shape-rendering="crispEdges"/>
<rect x="554" y="194" width="1" height="33" fill="#000" shape-rendering="crispEdges"/>
<rect x="552" y="204" width="5" height="4" fill="#000" shape-rendering="crispEdges"/>
<rect x="553" y="205" width="3" height="2" fill="#fff" shape-rendering="crispEdges"/>
<rect x="562" y="182" width="1" height="53" fill="#000" shape-rendering="crispEdges"/>
<rect x="560" y="188" width="5" height="17" fill="#000" shape-rendering="crispEdges"/>
<rect x="561" y="189" width="3" height="15" fill="#fff" shape-rendering="crispEdges"/>
<rect x="570" y="129" width="1" height="70" fill="#000" shape-rendering="crispEdges"/>
<rect x="568" y="153" width="5" height="37" fill="#000" shape-rendering="crispEdges"/>
<rect x="569" y="154" width="3" height="35" fill="#fff" shape-rendering="crispEdges"/>
<rect x="578" y="133" width="1" height="17" fill="#000" shape-rendering="crispEdges"/>
<rect x="576" y="139" width="5" height="9" fill="#000" shape-rendering="crispEdges"/>
<rect x="577" y="140" width="3" height="7" fill="#fff" shape-rendering="crispEdges"/>
<rect x="586" y="138" width="1" height="57" fill="#000" shape-rendering="crispEdges"/>
<rect x="584" y="138" width="5" height="38" fill="#000" shape-rendering="crispEdges"/>
<rect x="594" y="173" width="1" height="54" fill="#000" shape-rendering="crispEdges"/>
<rect x="592" y="177" width="5" height="29" fill="#000" shape-rendering="crispEdges"/>
<rect x="602" y="194" width="1" height="41" fill="#000" shape-rendering="crispEdges"/>
<rect x="600" y="204" width="5" height="29" fill="#000" shape-rendering="crispEdges"/>
<rect x="610" y="220" width="1" height="65" fill="#000" shape-rendering="crispEdges"/>
<rect x="608" y="231" width="5" height="50" fill="#000" shape-rendering="crispEdges"/>
<rect x="618" y="231" width="1" height="63" fill="#000" shape-rendering="crispEdges"/>
<rect x="616" y="278" width="5" height="5" fill="#000" shape-rendering="crispEdges"/>
<rect x="626" y="274" width="1" height="12" fill="#000" shape-rendering="crispEdges"/>
<rect x="624" y="275" width="5" height="7" fill="#000" shape-rendering="crispEdges"/>
<rect x="634" y="236" width="1" height="66" fill="#000" shape-rendering="crispEdges"/>
<rect x="632" y="236" width="5" height="44" fill="#000" shape-rendering="crispEdges"/>
<rect x="633" y="237" width="3" height="42" fill="#fff" shape-rendering="crispEdges"/>
<rect x="642" y="222" width="1" height="47" fill="#000" shape-rendering="crispEdges"/>
<rect x="640" y="236" width="5" height="22" fill="#000" shape-rendering="crispEdges"/>
<rect x="650" y="255" width="1" height="32" fill="#000" shape-rendering="crispEdges"/>
<rect x="648" y="256" width="5" height="29" fill="#000" shape-rendering="crispEdges"/>
<rect x="658" y="277" width="1" height="56" fill="#000" shape-rendering="crispEdges"/>
<rect x="656" y="283" width="5" height="35" fill="#000" shape-rendering="crispEdges"/>
<rect x="666" y="307" width="1" height="38" fill="#000" shape-rendering="crispEdges"/>
<rect x="664" y="315" width="5" height="28" fill="#000" shape-rendering="crispEdges"/>
<rect x="674" y="343" width="1" height="6" fill="#000" shape-rendering="crispEdges"/>
<rect x="672" y="344" width="5" height="3" fill="#000" shape-rendering="crispEdges"/>
<rect x="682" y="295" width="1" height="55" fill="#000" shape-rendering="crispEdges"/>
<rect x="680" y="297" width="5" height="49" fill="#000" shape-rendering="crispEdges"/>
<rect x="681" y="298" width="3" height="47" fill="#fff" shape-rendering="crispEdges"/>
<rect x="690" y="287" width="1" height="40" fill="#000" shape-rendering="crispEdges"/>
<rect x="688" y="297" width="5" height="11" fill="#000" shape-rendering="crispEdges"/>
<rect x="698" y="297" width="1" height="28" fill="#000" shape-rendering="crispEdges"/>
<rect x="696" y="306" width="5" height="14" fill="#000" shape-rendering="crispEdges"/>
<rect x="706" y="297" width="1" height="25" fill="#000" shape-rendering="crispEdges"/>
<rect x="704" y="310" width="5" height="10" fill="#000" shape-rendering="crispEdges"/>
<rect x="705" y="311" width="3" height="8" fill="#fff" shape-rendering="crispEdges"/>
<rect x="714" y="307" width="1" height="36" fill="#000" shape-rendering="crispEdges"/>
<rect x="712" y="311" width="5" height="25" fill="#000" shape-rendering="crispEdges"/>
<rect x="722" y="332" width="1" height="7" fill="#000" shape-rendering="crispEdges"/>
<rect x="720" y="333" width="5" height="4" fill="#000" shape-rendering="crispEdges"/>
<rect x="721" y="334" width="3" height="2" fill="#fff" shape-rendering="crispEdges"/>
<rect x="730" y="323" width="1" height="22" fill="#000" shape-rendering="crispEdges"/>
<rect x="728" y="329" width="5" height="6" fill="#000" shape-rendering="crispEdges"/>
<rect x="729" y="330" width="3" height="4" fill="#fff" shape-rendering="crispEdges"/>
<rect x="738" y="291" width="1" height="52" fill="#000" shape-rendering="crispEdges"/>
<rect x="736" y="293" width="5" height="38" fill="#000" shape-rendering="crispEdges"/>
<rect x="737" y="294" width="3" height="36" fill="#fff" shape-rendering="crispEdges"/>
<rect x="746" y="281" width="1" height="37" fill="#000" shape-rendering="crispEdges"/>
<rect x="744" y="291" width="5" height="4" fill="#000" shape-rendering="crispEdges"/>
<rect x="745" y="292" width="3" height="2" fill="#fff" shape-rendering="crispEdges"/>
<rect x="754" y="267" width="1" height="26" fill="#000" shape-rendering="crispEdges"/>
<rect x="752" y="288" width="5" height="5" fill="#000" shape-rendering="crispEdges"/>
<rect x="753" y="289" width="3" height="3" fill="#fff" shape-rendering="crispEdges"/>
<rect x="762" y="282" width="1" height="15" fill="#000" shape-rendering="crispEdges"/>
<rect x="760" y="283" width="5" height="6" fill="#000" shape-rendering="crispEdges"/>
<rect x="761" y="284" width="3" height="4" fill="#fff" shape-rendering="crispEdges"/>
<rect x="770" y="280" width="1" height="5" fill="#000" shape-rendering="crispEdges"/>
<rect x="768" y="281" width="5" height="4" fill="#000" shape-rendering="crispEdges"/>
<rect x="769" y="282" width="3" height="2" fill="#fff" shape-rendering="crispEdges"/>
<rect x="778" y="268" width="1" height="20" fill="#000" shape-rendering="crispEdges"/>
<rect x="776" y="281" width="5" height="4" fill="#000" shape-rendering="crispEdges"/>
<rect x="786" y="248" width="1" height="37" fill="#000" shape-rendering="crispEdges"/>
<rect x="784" y="262" width="5" height="23" fill="#000" shape-rendering="crispEdges"/>
<rect x="785" y="263" width="3" height="21" fill="#fff" shape-rendering="crispEdges"/>
<rect x="794" y="248" width="1" height="25" fill="#000" shape-rendering="crispEdges"/>
<rect x="792" y="252" width="5" height="11" fill="#000" shape-rendering="crispEdges"/>
<rect x="793" y="253" width="3" height="9" fill="#fff" shape-rendering="crispEdges"/>
<rect x="802" y="234" width="1" height="26" fill="#000" shape-rendering="crispEdges"/>
<rect x="800" y="251" width="5" height="5" fill="#000" shape-rendering="crispEdges"/>
<rect x="810" y="254" width="1" height="27" fill="#000" shape-rendering="crispEdges"/>
<rect x="808" y="254" width="5" height="5" fill="#000" shape-rendering="crispEdges"/>
<rect x="818" y="257" width="1" height="6" fill="#000" shape-rendering="crispEdges"/>
<rect x="816" y="257" width="5" height="4" fill="#000" shape-rendering="crispEdges"/>
<rect x="826" y="246" width="1" height="26" fill="#000" shape-rendering="crispEdges"/>
<rect x="824" y="259" width="5" height="12" fill="#000" shape-rendering="crispEdges"/>
<rect x="834" y="263" width="1" height="26" fill="#000" shape-rendering="crispEdges"/>
<rect x="832" y="266" width="5" height="4" fill="#000" shape-rendering="crispEdges"/>
<rect x="833" y="267" width="3" height="2" fill="#fff" shape-rendering="crispEdges"/>
<rect x="842" y="257" width="1" height="18" fill="#000" shape-rendering="crispEdges"/>
<rect x="840" y="265" width="5" height="6" fill="#000" shape-rendering="crispEdges"/>
<rect x="850" y="255" width="1" height="31" fill="#000" shape-rendering="crispEdges"/>
<rect x="848" y="267" width="5" height="5" fill="#000" shape-rendering="crispEdges"/>
<rect x="849" y="268" width="3" height="3" fill="#fff" shape-rendering="crispEdges"/>
<rect x="858" y="262" width="1" height="23" fill="#000" shape-rendering="crispEdges"/>
<rect x="856" y="266" width="5" height="11" fill="#000" shape-rendering="crispEdges"/>
<rect x="866" y="269" width="1" height="5" fill="#000" shape-rendering="crispEdges"/>
<rect x="864" y="269" width="5" height="5" fill="#000" shape-rendering="crispEdges"/>
<rect x="865" y="270" width="3" height="3" fill="#fff" shape-rendering="crispEdges"/>
<rect x="874" y="234" width="1" height="45" fill="#000" shape-rendering="crispEdges"/>
<rect x="872" y="240" width="5" height="32" fill="#000" shape-rendering="crispEdges"/>
<rect x="873" y="241" width="3" height="30" fill="#fff" shape-rendering="crispEdges"/>
<rect x="882" y="220" width="1" height="22" fill="#000" shape-rendering="crispEdges"/>
<rect x="880" y="231" width="5" height="9" fill="#000" shape-rendering="crispEdges"/>
<rect x="881" y="232" width="3" height="7" fill="#fff" shape-rendering="crispEdges"/>
<rect x="890" y="215" width="1" height="38" fill="#000" shape-rendering="crispEdges"/>
<rect x="888" y="221" width="5" height="11" fill="#000" shape-rendering="crispEdges"/>
<rect x="889" y="222" width="3" height="9" fill="#fff" shape-rendering="crispEdges"/>
<rect x="898" y="215" width="1" height="23" fill="#000" shape-rendering="crispEdges"/>
<rect x="896" y="220" width="5" height="14" fill="#000" shape-rendering="crispEdges"/>
<rect x="906" y="231" width="1" height="30" fill="#000" shape-rendering="crispEdges"/>
<rect x="904" y="232" width="5" height="14" fill="#000" shape-rendering="crispEdges"/>
<rect x="914" y="239" width="1" height="8" fill="#000" shape-rendering="crispEdges"/>
<rect x="912" y="242" width="5" height="2" fill="#000" shape-rendering="crispEdges"/>
<rect x="922" y="236" width="1" height="21" fill="#000" shape-rendering="crispEdges"/>
<rect x="920" y="241" width="5" height="4" fill="#000" shape-rendering="crispEdges"/>
<rect x="921" y="242" width="3" height="2" fill="#fff" shape-rendering="crispEdges"/>
<rect x="930" y="228" width="1" height="24" fill="#000" shape-rendering="crispEdges"/>
<rect x="928" y="236" width="5" height="6" fill="#000" shape-rendering="crispEdges"/>
<rect x="929" y="237" width="3" height="4" fill="#fff" shape-rendering="crispEdges"/>
<rect x="938" y="219" width="1" height="24" fill="#000" shape-rendering="crispEdges"/>
<rect x="936" y="224" width="5" height="13" fill="#000" shape-rendering="crispEdges"/>
<rect x="937" y="225" width="3" height="11" fill="#fff" shape-rendering="crispEdges"/>
<rect x="946" y="194" width="1" height="38" fill="#000" shape-rendering="crispEdges"/>
<rect x="944" y="196" width="5" height="29" fill="#000" shape-rendering="crispEdges"/>
<rect x="945" y="197" width="3" height="27" fill="#fff" shape-rendering="crispEdges"/>
<rect x="954" y="144" width="1" height="68" fill="#000" shape-rendering="crispEdges"/>
<rect x="952" y="161" width="5" height="36" fill="#000" shape-rendering="crispEdges"/>
<rect x="953" y="162" width="3" height="34" fill="#fff" shape-rendering="crispEdges"/>
<rect x="962" y="157" width="1" height="7" fill="#000" shape-rendering="crispEdges"/>
<rect x="960" y="158" width="5" height="5" fill="#000" shape-rendering="crispEdges"/>
<rect x="961" y="159" width="3" height="3" fill="#fff" shape-rendering="crispEdges"/>
<rect x="970" y="149" width="1" height="37" fill="#000" shape-rendering="crispEdges"/>
<rect x="968" y="159" width="5" height="2" fill="#000" shape-rendering="crispEdges"/>
<rect x="978" y="153" width="1" height="31" fill="#000" shape-rendering="crispEdges"/>
<rect x="976" y="159" width="5" height="14" fill="#000" shape-rendering="crispEdges"/>
<rect x="986" y="149" width="1" height="29" fill="#000" shape-rendering="crispEdges"/>
<rect x="984" y="162" width="5" height="10" fill="#000" shape-rendering="crispEdges"/>
<rect x="985" y="163" width="3" height="8" fill="#fff" shape-rendering="crispEdges"/>
<rect x="994" y="143" width="1" height="24" fill="#000" shape-rendering="crispEdges"/>
<rect x="992" y="157" width="5" height="6" fill="#000" shape-rendering="crispEdges"/>
<rect x="993" y="158" width="3" height="4" fill="#fff" shape-rendering="crispEdges"/>
<rect x="1002" y="156" width="1" height="27" fill="#000" shape-rendering="crispEdges"/>
<rect x="1000" y="157" width="5" height="14" fill="#000" shape-rendering="crispEdges"/>
<rect x="1010" y="171" width="1" height="4" fill="#000" shape-rendering="crispEdges"/>
<rect x="1008" y="173" width="5" height="2" fill="#000" shape-rendering="crispEdges"/>
<rect x="1018" y="159" width="1" height="16" fill="#000" shape-rendering="crispEdges"/>
<rect x="1016" y="160" width="5" height="14" fill="#000" shape-rendering="crispEdges"/>
<rect x="1017" y="161" width="3" height="12" fill="#fff" shape-rendering="crispEdges"/>
<rect x="1026" y="136" width="1" height="27" fill="#000" shape-rendering="crispEdges"/>
<rect x="1024" y="150" width="5" height="12" fill="#000" shape-rendering="crispEdges"/>
<rect x="1025" y="151" width="3" height="10" fill="#fff" shape-rendering="crispEdges"/>
<rect x="1034" y="132" width="1" height="23" fill="#000" shape-rendering="crispEdges"/>
<rect x="1032" y="139" width="5" height="12" fill="#000" shape-rendering="crispEdges"/>
<rect x="1033" y="140" width="3" height="10" fill="#fff" shape-rendering="crispEdges"/>
<rect x="1042" y="116" width="1" height="28" fill="#000" shape-rendering="crispEdges"/>
<rect x="1040" y="127" width="5" height="13" fill="#000" shape-rendering="crispEdges"/>
<rect x="1041" y="128" width="3" height="11" fill="#fff" shape-rendering="crispEdges"/>
<rect x="1050" y="121" width="1" height="21" fill="#000" shape-rendering="crispEdges"/>
<rect x="1048" y="127" width="5" height="11" fill="#000" shape-rendering="crispEdges"/>
<rect x="1058" y="132" width="1" height="3" fill="#000" shape-rendering="crispEdges"/>
<rect x="1056" y="132" width="5" height="3" fill="#000" shape-rendering="crispEdges"/>
<rect x="1066" y="130" width="1" height="29" fill="#000" shape-rendering="crispEdges"/>
<rect x="1064" y="131" width="5" height="22" fill="#000" shape-rendering="crispEdges"/>
<rect x="1074" y="132" width="1" height="30" fill="#000" shape-rendering="crispEdges"/>
<rect x="1072" y="138" width="5" height="14" fill="#000" shape-rendering="crispEdges"/>
<rect x="1073" y="139" width="3" height="12" fill="#fff" shape-rendering="crispEdges"/>
<rect x="1082" y="123" width="1" height="34" fill="#000" shape-rendering="crispEdges"/>
<rect x="1080" y="136" width="5" height="13" fill="#000" shape-rendering="crispEdges"/>
<rect x="1090" y="125" width="1" height="38" fill="#000" shape-rendering="crispEdges"/>
<rect x="1088" y="130" width="5" height="19" fill="#000" shape-rendering="crispEdges"/>
<rect x="1089" y="131" width="3" height="17" fill="#fff" shape-rendering="crispEdges"/>
<rect x="1098" y="123" width="1" height="49" fill="#000" shape-rendering="crispEdges"/>
<rect x="1096" y="130" width="5" height="34" fill="#000" shape-rendering="crispEdges"/>
<rect x="1106" y="158" width="1" height="4" fill="#000" shape-rendering="crispEdges"/>
<rect x="1104" y="158" width="5" height="3" fill="#000" shape-rendering="crispEdges"/>
<rect x="1114" y="149" width="1" height="22" fill="#000" shape-rendering="crispEdges"/>
<rect x="1112" y="160" width="5" height="4" fill="#000" shape-rendering="crispEdges"/>
<rect x="1122" y="121" width="1" height="46" fill="#000" shape-rendering="crispEdges"/>
<rect x="1120" y="124" width="5" height="39" fill="#000" shape-rendering="crispEdges"/>
<rect x="1121" y="125" width="3" height="37" fill="#fff" shape-rendering="crispEdges"/>
<rect x="1130" y="114" width="1" height="20" fill="#000" shape-rendering="crispEdges"/>
<rect x="1128" y="124" width="5" height="2" fill="#000" shape-rendering="crispEdges"/>
<rect x="1138" y="98" width="1" height="34" fill="#000" shape-rendering="crispEdges"/>
<rect x="1136" y="100" width="5" height="25" fill="#000" shape-rendering="crispEdges"/>
<rect x="1137" y="101" width="3" height="23" fill="#fff" shape-rendering="crispEdges"/>
<rect x="1146" y="77" width="1" height="46" fill="#000" shape-rendering="crispEdges"/>
<rect x="1144" y="101" width="5" height="4" fill="#000" shape-rendering="crispEdges"/>
<rect x="1154" y="95" width="1" height="6" fill="#000" shape-rendering="crispEdges"/>
<rect x="1152" y="95" width="5" height="2" fill="#000" shape-rendering="crispEdges"/>
<rect x="1162" y="66" width="1" height="44" fill="#000" shape-rendering="crispEdges"/>
<rect x="1160" y="77" width="5" height="20" fill="#000" shape-rendering="crispEdges"/>
<rect x="1161" y="78" width="3" height="18" fill="#fff" shape-rendering="crispEdges"/>
<rect x="1170" y="47" width="1" height="40" fill="#000" shape-rendering="crispEdges"/>
<rect x="1168" y="70" width="5" height="7" fill="#000" shape-rendering="crispEdges"/>
<rect x="1169" y="71" width="3" height="5" fill="#fff" shape-rendering="crispEdges"/>
<rect x="1178" y="69" width="1" height="27" fill="#000" shape-rendering="crispEdges"/>
<rect x="1176" y="70" width="5" height="5" fill="#000" shape-rendering="crispEdges"/>
<rect x="1186" y="73" width="1" height="38" fill="#000" shape-rendering="crispEdges"/>
<rect x="1184" y="74" width="5" height="30" fill="#000" shape-rendering="crispEdges"/>
<rect x="1194" y="82" width="1" height="39" fill="#000" shape-rendering="crispEdges"/>
<rect x="1192" y="90" width="5" height="13" fill="#000" shape-rendering="crispEdges"/>
<rect x="1193" y="91" width="3" height="11" fill="#fff" shape-rendering="crispEdges"/>
<rect x="1202" y="98" width="1" height="5" fill="#000" shape-rendering="crispEdges"/>
<rect x="1200" y="100" width="5" height="1" fill="#000" shape-rendering="crispEdges"/>
<rect x="1210" y="94" width="1" height="41" fill="#000" shape-rendering="crispEdges"/>
<rect x="1208" y="100" width="5" height="27" fill="#000" shape-rendering="crispEdges"/>
<rect x="1218" y="124" width="1" height="80" fill="#000" shape-rendering="crispEdges"/>
<rect x="1216" y="125" width="5" height="71" fill="#000" shape-rendering="crispEdges"/>
<rect x="1226" y="167" width="1" height="46" fill="#000" shape-rendering="crispEdges"/>
<rect x="1224" y="174" width="5" height="21" fill="#000" shape-rendering="crispEdges"/>
<rect x="1225" y="175" width="3" height="19" fill="#fff" shape-rendering="crispEdges"/>
<rect x="1234" y="167" width="1" height="77" fill="#000" shape-rendering="crispEdges"/>
<rect x="1232" y="175" width="5" height="60" fill="#000" shape-rendering="crispEdges"/>
<rect x="1242" y="215" width="1" height="29" fill="#000" shape-rendering="crispEdges"/>
<rect x="1240" y="233" width="5" height="8" fill="#000" shape-rendering="crispEdges"/>
<rect x="1250" y="233" width="1" height="4" fill="#000" shape-rendering="crispEdges"/>
<rect x="1248" y="233" width="5" height="4" fill="#000" shape-rendering="crispEdges"/>
<rect x="1249" y="234" width="3" height="2" fill="#fff" shape-rendering="crispEdges"/>
<rect x="1258" y="216" width="1" height="24" fill="#000" shape-rendering="crispEdges"/>
<rect x="1256" y="233" width="5" height="5" fill="#000" shape-rendering="crispEdges"/>
<rect x="1266" y="220" width="1" height="30" fill="#000" shape-rendering="crispEdges"/>
<rect x="1264" y="236" width="5" height="4" fill="#000" shape-rendering="crispEdges"/>
<rect x="1274" y="219" width="1" height="27" fill="#000" shape-rendering="crispEdges"/>
<rect x="1272" y="227" width="5" height="12" fill="#000" shape-rendering="crispEdges"/>
<rect x="1273" y="228" width="3" height="10" fill="#fff" shape-rendering="crispEdges"/>
<rect x="1282" y="228" width="1" height="44" fill="#000" shape-rendering="crispEdges"/>
<rect x="1280" y="228" width="5" height="9" fill="#000" shape-rendering="crispEdges"/>
<rect x="1290" y="227" width="1" height="35" fill="#000" shape-rendering="crispEdges"/>
<rect x="1288" y="235" width="5" height="22" fill="#000" shape-rendering="crispEdges"/>
<rect x="1298" y="253" width="1" height="5" fill="#000" shape-rendering="crispEdges"/>
<rect x="1296" y="254" width="5" height="3" fill="#000" shape-rendering="crispEdges"/>
<rect x="1306" y="250" width="1" height="50" fill="#000" shape-rendering="crispEdges"/>
<rect x="1304" y="254" width="5" height="29" fill="#000" shape-rendering="crispEdges"/>
<rect x="1314" y="276" width="1" height="38" fill="#000" shape-rendering="crispEdges"/>
<rect x="1312" y="282" width="5" height="10" fill="#000" shape-rendering="crispEdges"/>
<rect x="1322" y="270" width="1" height="41" fill="#000" shape-rendering="crispEdges"/>
<rect x="1320" y="290" width="5" height="2" fill="#000" shape-rendering="crispEdges"/>
<rect x="1330" y="270" width="1" height="29" fill="#000" shape-rendering="crispEdges"/>
<rect x="1328" y="274" width="5" height="17" fill="#000" shape-rendering="crispEdges"/>
<rect x="1329" y="275" width="3" height="15" fill="#fff" shape-rendering="crispEdges"/>
<rect x="1338" y="265" width="1" height="27" fill="#000" shape-rendering="crispEdges"/>
<rect x="1336" y="273" width="5" height="4" fill="#000" shape-rendering="crispEdges"/>
<rect x="1346" y="265" width="1" height="4" fill="#000" shape-rendering="crispEdges"/>
<rect x="1344" y="266" width="5" height="3" fill="#000" shape-rendering="crispEdges"/>
<rect x="1345" y="267" width="3" height="1" fill="#fff" shape-rendering="crispEdges"/>
<rect x="1354" y="224" width="1" height="55" fill="#000" shape-rendering="crispEdges"/>
<rect x="1352" y="239" width="5" height="28" fill="#000" shape-rendering="crispEdges"/>
<rect x="1353" y="240" width="3" height="26" fill="#fff" shape-rendering="crispEdges"/>
<rect x="1362" y="224" width="1" height="25" fill="#000" shape-rendering="crispEdges"/>
<rect x="1360" y="233" width="5" height="7" fill="#000" shape-rendering="crispEdges"/>
<rect x="1361" y="234" width="3" height="5" fill="#fff" shape-rendering="crispEdges"/>
<rect x="1370" y="217" width="1" height="37" fill="#000" shape-rendering="crispEdges"/>
<rect x="1368" y="226" width="5" height="8" fill="#000" shape-rendering="crispEdges"/>
<rect x="1369" y="227" width="3" height="6" fill="#fff" shape-rendering="crispEdges"/>
<rect x="1378" y="208" width="1" height="40" fill="#000" shape-rendering="crispEdges"/>
<rect x="1376" y="226" width="5" height="8" fill="#000" shape-rendering="crispEdges"/>
<rect x="1386" y="221" width="1" height="39" fill="#000" shape-rendering="crispEdges"/>
<rect x="1384" y="223" width="5" height="11" fill="#000" shape-rendering="crispEdges"/>
<rect x="1385" y="224" width="3" height="9" fill="#fff" shape-rendering="crispEdges"/>
<rect x="1394" y="218" width="1" height="5" fill="#000" shape-rendering="crispEdges"/>
<rect x="1392" y="220" width="5" height="2" fill="#000" shape-rendering="crispEdges"/>
<rect x="1402" y="193" width="1" height="35" fill="#000" shape-rendering="crispEdges"/>
<rect x="1400" y="196" width="5" height="26" fill="#000" shape-rendering="crispEdges"/>
<rect x="1401" y="197" width="3" height="24" fill="#fff" shape-rendering="crispEdges"/>
<rect x="1410" y="192" width="1" height="45" fill="#000" shape-rendering="crispEdges"/>
<rect x="1408" y="195" width="5" height="36" fill="#000" shape-rendering="crispEdges"/>
<rect x="1418" y="208" width="1" height="27" fill="#000" shape-rendering="crispEdges"/>
<rect x="1416" y="209" width="5" height="22" fill="#000" shape-rendering="crispEdges"/>
<rect x="1417" y="210" width="3" height="20" fill="#fff" shape-rendering="crispEdges"/>
<rect x="1426" y="193" width="1" height="22" fill="#000" shape-rendering="crispEdges"/>
<rect x="1424" y="200" width="5" height="2" fill="#000" shape-rendering="crispEdges"/>
<rect x="1434" y="183" width="1" height="29" fill="#000" shape-rendering="crispEdges"/>
<rect x="1432" y="185" width="5" height="17" fill="#000" shape-rendering="crispEdges"/>
<rect x="1433" y="186" width="3" height="15" fill="#fff" shape-rendering="crispEdges"/>
<rect x="499.5" y="120.5" width="61" height="18" fill="#fff" stroke="#ff0000" stroke-width="1" shape-rendering="crispEdges"/>
<text x="501.5" y="136.2" font-size="17" fill="#ff0000" textLength="58.0" lengthAdjust="spacingAndGlyphs">139.715</text>
<polyline points="561,129.5 570.5,129.5" fill="none" stroke="#ff0000" stroke-width="1" shape-rendering="crispEdges"/>
<rect x="1099.5" y="39.5" width="61" height="18" fill="#fff" stroke="#ff0000" stroke-width="1" shape-rendering="crispEdges"/>
<text x="1102" y="55.2" font-size="17" fill="#ff0000" textLength="57.200000000000045" lengthAdjust="spacingAndGlyphs">142.659</text>
<polyline points="1161,47.5 1170.5,47.5" fill="none" stroke="#ff0000" stroke-width="1" shape-rendering="crispEdges"/>
<rect x="1243.5" y="304.5" width="61" height="18" fill="#fff" stroke="#ff0000" stroke-width="1" shape-rendering="crispEdges"/>
<text x="1245.5" y="320.3" font-size="17" fill="#ff0000" textLength="57.700000000000045" lengthAdjust="spacingAndGlyphs">133.029</text>
<polyline points="1305,313.5 1314.5,313.5" fill="none" stroke="#ff0000" stroke-width="1" shape-rendering="crispEdges"/>
<rect x="1133.5" y="191.5" width="73" height="24" fill="#fff" stroke="#ff0000" stroke-width="1" shape-rendering="crispEdges"/>
<text x="1135.5" y="212.2" font-size="22.4" fill="#ff0000" textLength="69.70000000000005" lengthAdjust="spacingAndGlyphs">137.026</text>
<rect x="1123" y="203" width="7" height="1" fill="#ff0000" shape-rendering="crispEdges"/>
<rect x="1130.5" y="200.5" width="3" height="5" fill="#fff" stroke="#ff0000" stroke-width="1" shape-rendering="crispEdges"/>
<rect x="1239" y="201" width="242" height="7" fill="#00ff00" shape-rendering="crispEdges"/>
<polygon points="1444,21 1453,21 1448.5,26" fill="#c0c0c0"/>
<rect x="2" y="633" width="1" height="73" fill="#c0c0c0" shape-rendering="crispEdges"/>
<rect x="10" y="633" width="1" height="77" fill="#c0c0c0" shape-rendering="crispEdges"/>
<rect x="18" y="633" width="1" height="84" fill="#c0c0c0" shape-rendering="crispEdges"/>
<rect x="26" y="633" width="1" height="87" fill="#c0c0c0" shape-rendering="crispEdges"/>
<rect x="34" y="633" width="1" height="100" fill="#c0c0c0" shape-rendering="crispEdges"/>
<rect x="42" y="633" width="1" height="104" fill="#c0c0c0" shape-rendering="crispEdges"/>
<rect x="50" y="633" width="1" height="104" fill="#c0c0c0" shape-rendering="crispEdges"/>
<rect x="58" y="633" width="1" height="104" fill="#c0c0c0" shape-rendering="crispEdges"/>
<rect x="66" y="633" width="1" height="103" fill="#c0c0c0" shape-rendering="crispEdges"/>
<rect x="74" y="633" width="1" height="94" fill="#c0c0c0" shape-rendering="crispEdges"/>
<rect x="82" y="633" width="1" height="84" fill="#c0c0c0" shape-rendering="crispEdges"/>
<rect x="90" y="633" width="1" height="73" fill="#c0c0c0" shape-rendering="crispEdges"/>
<rect x="98" y="633" width="1" height="60" fill="#c0c0c0" shape-rendering="crispEdges"/>
<rect x="106" y="633" width="1" height="49" fill="#c0c0c0" shape-rendering="crispEdges"/>
<rect x="114" y="633" width="1" height="42" fill="#c0c0c0" shape-rendering="crispEdges"/>
<rect x="122" y="633" width="1" height="36" fill="#c0c0c0" shape-rendering="crispEdges"/>
<rect x="130" y="633" width="1" height="32" fill="#c0c0c0" shape-rendering="crispEdges"/>
<rect x="138" y="633" width="1" height="27" fill="#c0c0c0" shape-rendering="crispEdges"/>
<rect x="146" y="633" width="1" height="25" fill="#c0c0c0" shape-rendering="crispEdges"/>
<rect x="154" y="633" width="1" height="22" fill="#c0c0c0" shape-rendering="crispEdges"/>
<rect x="162" y="633" width="1" height="18" fill="#c0c0c0" shape-rendering="crispEdges"/>
<rect x="170" y="633" width="1" height="14" fill="#c0c0c0" shape-rendering="crispEdges"/>
<rect x="178" y="633" width="1" height="8" fill="#c0c0c0" shape-rendering="crispEdges"/>
<rect x="186" y="633" width="1" height="5" fill="#c0c0c0" shape-rendering="crispEdges"/>
<rect x="202" y="632" width="1" height="2" fill="#c0c0c0" shape-rendering="crispEdges"/>
<rect x="210" y="629" width="1" height="5" fill="#c0c0c0" shape-rendering="crispEdges"/>
<rect x="218" y="628" width="1" height="6" fill="#c0c0c0" shape-rendering="crispEdges"/>
<rect x="226" y="627" width="1" height="7" fill="#c0c0c0" shape-rendering="crispEdges"/>
<rect x="234" y="628" width="1" height="6" fill="#c0c0c0" shape-rendering="crispEdges"/>
<rect x="242" y="630" width="1" height="4" fill="#c0c0c0" shape-rendering="crispEdges"/>
<rect x="250" y="633" width="1" height="2" fill="#c0c0c0" shape-rendering="crispEdges"/>
<rect x="258" y="633" width="1" height="2" fill="#c0c0c0" shape-rendering="crispEdges"/>
<rect x="266" y="633" width="1" height="3" fill="#c0c0c0" shape-rendering="crispEdges"/>
<rect x="274" y="633" width="1" height="4" fill="#c0c0c0" shape-rendering="crispEdges"/>
<rect x="282" y="633" width="1" height="7" fill="#c0c0c0" shape-rendering="crispEdges"/>
<rect x="290" y="633" width="1" height="7" fill="#c0c0c0" shape-rendering="crispEdges"/>
<rect x="298" y="633" width="1" height="7" fill="#c0c0c0" shape-rendering="crispEdges"/>
<rect x="306" y="633" width="1" height="9" fill="#c0c0c0" shape-rendering="crispEdges"/>
<rect x="314" y="633" width="1" height="8" fill="#c0c0c0" shape-rendering="crispEdges"/>
<rect x="322" y="633" width="1" height="5" fill="#c0c0c0" shape-rendering="crispEdges"/>
<rect x="330" y="633" width="1" height="7" fill="#c0c0c0" shape-rendering="crispEdges"/>
<rect x="338" y="633" width="1" height="7" fill="#c0c0c0" shape-rendering="crispEdges"/>
<rect x="346" y="633" width="1" height="7" fill="#c0c0c0" shape-rendering="crispEdges"/>
<rect x="354" y="633" width="1" height="8" fill="#c0c0c0" shape-rendering="crispEdges"/>
<rect x="362" y="633" width="1" height="13" fill="#c0c0c0" shape-rendering="crispEdges"/>
<rect x="370" y="633" width="1" height="16" fill="#c0c0c0" shape-rendering="crispEdges"/>
<rect x="378" y="633" width="1" height="14" fill="#c0c0c0" shape-rendering="crispEdges"/>
<rect x="386" y="633" width="1" height="13" fill="#c0c0c0" shape-rendering="crispEdges"/>
<rect x="394" y="633" width="1" height="13" fill="#c0c0c0" shape-rendering="crispEdges"/>
<rect x="402" y="633" width="1" height="14" fill="#c0c0c0" shape-rendering="crispEdges"/>
<rect x="410" y="633" width="1" height="18" fill="#c0c0c0" shape-rendering="crispEdges"/>
<rect x="418" y="633" width="1" height="18" fill="#c0c0c0" shape-rendering="crispEdges"/>
<rect x="426" y="633" width="1" height="25" fill="#c0c0c0" shape-rendering="crispEdges"/>
<rect x="434" y="633" width="1" height="22" fill="#c0c0c0" shape-rendering="crispEdges"/>
<rect x="442" y="633" width="1" height="25" fill="#c0c0c0" shape-rendering="crispEdges"/>
<rect x="450" y="633" width="1" height="20" fill="#c0c0c0" shape-rendering="crispEdges"/>
<rect x="458" y="633" width="1" height="19" fill="#c0c0c0" shape-rendering="crispEdges"/>
<rect x="466" y="633" width="1" height="18" fill="#c0c0c0" shape-rendering="crispEdges"/>
<rect x="474" y="633" width="1" height="18" fill="#c0c0c0" shape-rendering="crispEdges"/>
<rect x="482" y="633" width="1" height="17" fill="#c0c0c0" shape-rendering="crispEdges"/>
<rect x="490" y="633" width="1" height="16" fill="#c0c0c0" shape-rendering="crispEdges"/>
<rect x="498" y="633" width="1" height="12" fill="#c0c0c0" shape-rendering="crispEdges"/>
<rect x="506" y="633" width="1" height="9" fill="#c0c0c0" shape-rendering="crispEdges"/>
<rect x="514" y="633" width="1" height="7" fill="#c0c0c0" shape-rendering="crispEdges"/>
<rect x="522" y="633" width="1" height="4" fill="#c0c0c0" shape-rendering="crispEdges"/>
<rect x="530" y="633" width="1" height="2" fill="#c0c0c0" shape-rendering="crispEdges"/>
<rect x="538" y="629" width="1" height="5" fill="#c0c0c0" shape-rendering="crispEdges"/>
<rect x="546" y="619" width="1" height="15" fill="#c0c0c0" shape-rendering="crispEdges"/>
<rect x="554" y="611" width="1" height="23" fill="#c0c0c0" shape-rendering="crispEdges"/>
<rect x="562" y="603" width="1" height="31" fill="#c0c0c0" shape-rendering="crispEdges"/>
<rect x="570" y="595" width="1" height="39" fill="#c0c0c0" shape-rendering="crispEdges"/>
<rect x="578" y="587" width="1" height="47" fill="#c0c0c0" shape-rendering="crispEdges"/>
<rect x="586" y="585" width="1" height="49" fill="#c0c0c0" shape-rendering="crispEdges"/>
<rect x="594" y="587" width="1" height="47" fill="#c0c0c0" shape-rendering="crispEdges"/>
<rect x="602" y="591" width="1" height="43" fill="#c0c0c0" shape-rendering="crispEdges"/>
<rect x="610" y="598" width="1" height="36" fill="#c0c0c0" shape-rendering="crispEdges"/>
<rect x="618" y="605" width="1" height="29" fill="#c0c0c0" shape-rendering="crispEdges"/>
<rect x="626" y="611" width="1" height="23" fill="#c0c0c0" shape-rendering="crispEdges"/>
<rect x="634" y="611" width="1" height="23" fill="#c0c0c0" shape-rendering="crispEdges"/>
<rect x="642" y="614" width="1" height="20" fill="#c0c0c0" shape-rendering="crispEdges"/>
<rect x="650" y="618" width="1" height="16" fill="#c0c0c0" shape-rendering="crispEdges"/>
<rect x="658" y="625" width="1" height="9" fill="#c0c0c0" shape-rendering="crispEdges"/>
<rect x="674" y="633" width="1" height="5" fill="#c0c0c0" shape-rendering="crispEdges"/>
<rect x="682" y="633" width="1" height="5" fill="#c0c0c0" shape-rendering="crispEdges"/>
<rect x="690" y="633" width="1" height="7" fill="#c0c0c0" shape-rendering="crispEdges"/>
<rect x="698" y="633" width="1" height="9" fill="#c0c0c0" shape-rendering="crispEdges"/>
<rect x="706" y="633" width="1" height="9" fill="#c0c0c0" shape-rendering="crispEdges"/>
<rect x="714" y="633" width="1" height="13" fill="#c0c0c0" shape-rendering="crispEdges"/>
<rect x="722" y="633" width="1" height="14" fill="#c0c0c0" shape-rendering="crispEdges"/>
<rect x="730" y="633" width="1" height="16" fill="#c0c0c0" shape-rendering="crispEdges"/>
<rect x="738" y="633" width="1" height="13" fill="#c0c0c0" shape-rendering="crispEdges"/>
<rect x="746" y="633" width="1" height="10" fill="#c0c0c0" shape-rendering="crispEdges"/>
<rect x="754" y="633" width="1" height="7" fill="#c0c0c0" shape-rendering="crispEdges"/>
<rect x="762" y="633" width="1" height="6" fill="#c0c0c0" shape-rendering="crispEdges"/>
<rect x="770" y="633" width="1" height="4" fill="#c0c0c0" shape-rendering="crispEdges"/>
<rect x="778" y="633" width="1" height="3" fill="#c0c0c0" shape-rendering="crispEdges"/>
<rect x="786" y="633" width="1" height="2" fill="#c0c0c0" shape-rendering="crispEdges"/>
<rect x="794" y="630" width="1" height="4" fill="#c0c0c0" shape-rendering="crispEdges"/>
<rect x="802" y="627" width="1" height="7" fill="#c0c0c0" shape-rendering="crispEdges"/>
<rect x="810" y="626" width="1" height="8" fill="#c0c0c0" shape-rendering="crispEdges"/>
<rect x="818" y="625" width="1" height="9" fill="#c0c0c0" shape-rendering="crispEdges"/>
<rect x="826" y="625" width="1" height="9" fill="#c0c0c0" shape-rendering="crispEdges"/>
<rect x="834" y="628" width="1" height="6" fill="#c0c0c0" shape-rendering="crispEdges"/>
<rect x="842" y="627" width="1" height="7" fill="#c0c0c0" shape-rendering="crispEdges"/>
<rect x="850" y="626" width="1" height="8" fill="#c0c0c0" shape-rendering="crispEdges"/>
<rect x="858" y="626" width="1" height="8" fill="#c0c0c0" shape-rendering="crispEdges"/>
<rect x="866" y="628" width="1" height="6" fill="#c0c0c0" shape-rendering="crispEdges"/>
<rect x="874" y="626" width="1" height="8" fill="#c0c0c0" shape-rendering="crispEdges"/>
<rect x="882" y="623" width="1" height="11" fill="#c0c0c0" shape-rendering="crispEdges"/>
<rect x="890" y="620" width="1" height="14" fill="#c0c0c0" shape-rendering="crispEdges"/>
<rect x="898" y="619" width="1" height="15" fill="#c0c0c0" shape-rendering="crispEdges"/>
<rect x="906" y="620" width="1" height="14" fill="#c0c0c0" shape-rendering="crispEdges"/>
<rect x="914" y="620" width="1" height="14" fill="#c0c0c0" shape-rendering="crispEdges"/>
<rect x="922" y="620" width="1" height="14" fill="#c0c0c0" shape-rendering="crispEdges"/>
<rect x="930" y="621" width="1" height="13" fill="#c0c0c0" shape-rendering="crispEdges"/>
<rect x="938" y="620" width="1" height="14" fill="#c0c0c0" shape-rendering="crispEdges"/>
<rect x="946" y="616" width="1" height="18" fill="#c0c0c0" shape-rendering="crispEdges"/>
<rect x="954" y="611" width="1" height="23" fill="#c0c0c0" shape-rendering="crispEdges"/>
<rect x="962" y="607" width="1" height="27" fill="#c0c0c0" shape-rendering="crispEdges"/>
<rect x="970" y="605" width="1" height="29" fill="#c0c0c0" shape-rendering="crispEdges"/>
<rect x="978" y="604" width="1" height="30" fill="#c0c0c0" shape-rendering="crispEdges"/>
<rect x="986" y="603" width="1" height="31" fill="#c0c0c0" shape-rendering="crispEdges"/>
<rect x="994" y="602" width="1" height="32" fill="#c0c0c0" shape-rendering="crispEdges"/>
<rect x="1002" y="603" width="1" height="31" fill="#c0c0c0" shape-rendering="crispEdges"/>
<rect x="1010" y="604" width="1" height="30" fill="#c0c0c0" shape-rendering="crispEdges"/>
<rect x="1018" y="604" width="1" height="30" fill="#c0c0c0" shape-rendering="crispEdges"/>
<rect x="1026" y="603" width="1" height="31" fill="#c0c0c0" shape-rendering="crispEdges"/>
<rect x="1034" y="602" width="1" height="32" fill="#c0c0c0" shape-rendering="crispEdges"/>
<rect x="1042" y="601" width="1" height="33" fill="#c0c0c0" shape-rendering="crispEdges"/>
<rect x="1050" y="602" width="1" height="32" fill="#c0c0c0" shape-rendering="crispEdges"/>
<rect x="1058" y="602" width="1" height="32" fill="#c0c0c0" shape-rendering="crispEdges"/>
<rect x="1066" y="604" width="1" height="30" fill="#c0c0c0" shape-rendering="crispEdges"/>
<rect x="1074" y="604" width="1" height="30" fill="#c0c0c0" shape-rendering="crispEdges"/>
<rect x="1082" y="606" width="1" height="28" fill="#c0c0c0" shape-rendering="crispEdges"/>
<rect x="1090" y="607" width="1" height="27" fill="#c0c0c0" shape-rendering="crispEdges"/>
<rect x="1098" y="610" width="1" height="24" fill="#c0c0c0" shape-rendering="crispEdges"/>
<rect x="1106" y="612" width="1" height="22" fill="#c0c0c0" shape-rendering="crispEdges"/>
<rect x="1114" y="614" width="1" height="20" fill="#c0c0c0" shape-rendering="crispEdges"/>
<rect x="1122" y="614" width="1" height="20" fill="#c0c0c0" shape-rendering="crispEdges"/>
<rect x="1130" y="613" width="1" height="21" fill="#c0c0c0" shape-rendering="crispEdges"/>
<rect x="1138" y="611" width="1" height="23" fill="#c0c0c0" shape-rendering="crispEdges"/>
<rect x="1146" y="609" width="1" height="25" fill="#c0c0c0" shape-rendering="crispEdges"/>
<rect x="1154" y="608" width="1" height="26" fill="#c0c0c0" shape-rendering="crispEdges"/>
<rect x="1162" y="606" width="1" height="28" fill="#c0c0c0" shape-rendering="crispEdges"/>
<rect x="1170" y="604" width="1" height="30" fill="#c0c0c0" shape-rendering="crispEdges"/>
<rect x="1178" y="603" width="1" height="31" fill="#c0c0c0" shape-rendering="crispEdges"/>
<rect x="1186" y="605" width="1" height="29" fill="#c0c0c0" shape-rendering="crispEdges"/>
<rect x="1194" y="606" width="1" height="28" fill="#c0c0c0" shape-rendering="crispEdges"/>
<rect x="1202" y="607" width="1" height="27" fill="#c0c0c0" shape-rendering="crispEdges"/>
<rect x="1210" y="611" width="1" height="23" fill="#c0c0c0" shape-rendering="crispEdges"/>
<rect x="1218" y="621" width="1" height="13" fill="#c0c0c0" shape-rendering="crispEdges"/>
<rect x="1226" y="626" width="1" height="8" fill="#c0c0c0" shape-rendering="crispEdges"/>
<rect x="1234" y="633" width="1" height="2" fill="#c0c0c0" shape-rendering="crispEdges"/>
<rect x="1242" y="633" width="1" height="11" fill="#c0c0c0" shape-rendering="crispEdges"/>
<rect x="1250" y="633" width="1" height="17" fill="#c0c0c0" shape-rendering="crispEdges"/>
<rect x="1258" y="633" width="1" height="22" fill="#c0c0c0" shape-rendering="crispEdges"/>
<rect x="1266" y="633" width="1" height="25" fill="#c0c0c0" shape-rendering="crispEdges"/>
<rect x="1274" y="633" width="1" height="27" fill="#c0c0c0" shape-rendering="crispEdges"/>
<rect x="1282" y="633" width="1" height="28" fill="#c0c0c0" shape-rendering="crispEdges"/>
<rect x="1290" y="633" width="1" height="31" fill="#c0c0c0" shape-rendering="crispEdges"/>
<rect x="1298" y="633" width="1" height="32" fill="#c0c0c0" shape-rendering="crispEdges"/>
<rect x="1306" y="633" width="1" height="35" fill="#c0c0c0" shape-rendering="crispEdges"/>
<rect x="1314" y="633" width="1" height="38" fill="#c0c0c0" shape-rendering="crispEdges"/>
<rect x="1322" y="633" width="1" height="40" fill="#c0c0c0" shape-rendering="crispEdges"/>
<rect x="1330" y="633" width="1" height="40" fill="#c0c0c0" shape-rendering="crispEdges"/>
<rect x="1338" y="633" width="1" height="40" fill="#c0c0c0" shape-rendering="crispEdges"/>
<rect x="1346" y="633" width="1" height="38" fill="#c0c0c0" shape-rendering="crispEdges"/>
<rect x="1354" y="633" width="1" height="34" fill="#c0c0c0" shape-rendering="crispEdges"/>
<rect x="1362" y="633" width="1" height="29" fill="#c0c0c0" shape-rendering="crispEdges"/>
<rect x="1370" y="633" width="1" height="27" fill="#c0c0c0" shape-rendering="crispEdges"/>
<rect x="1378" y="633" width="1" height="23" fill="#c0c0c0" shape-rendering="crispEdges"/>
<rect x="1386" y="633" width="1" height="19" fill="#c0c0c0" shape-rendering="crispEdges"/>
<rect x="1394" y="633" width="1" height="16" fill="#c0c0c0" shape-rendering="crispEdges"/>
<rect x="1402" y="633" width="1" height="11" fill="#c0c0c0" shape-rendering="crispEdges"/>
<rect x="1410" y="633" width="1" height="9" fill="#c0c0c0" shape-rendering="crispEdges"/>
<rect x="1418" y="633" width="1" height="7" fill="#c0c0c0" shape-rendering="crispEdges"/>
<rect x="1426" y="633" width="1" height="5" fill="#c0c0c0" shape-rendering="crispEdges"/>
<polyline points="0.0,685.3 13.0,694.4 26.0,700.9 38.9,711.3 51.9,719.0 64.9,725.0 77.9,728.6 90.8,726.8 103.8,720.3 116.8,707.4 129.8,694.4 142.7,681.4 155.7,671.0 168.7,663.2 181.7,655.5 194.7,650.3 207.6,643.8 220.6,638.0 233.6,633.4 246.6,630.0 259.5,629.0 272.5,630.0 285.5,631.6 298.5,634.7 311.4,637.3 324.4,638.6 337.4,639.4 363.4,640.7 376.3,642.0 389.3,643.0 402.3,644.6 415.3,646.4 428.2,648.4 441.2,651.0 478.9,653.4 497.1,651.6 517.9,645.6 536.0,642.0 549.0,636.0 562.0,629.5 575.0,619.1 587.9,608.7 600.9,601.0 611.3,595.8 626.9,595.2 642.4,598.4 658.0,607.4 673.6,616.0 689.2,624.3 704.7,630.8 720.3,637.3 735.9,643.0 751.4,643.8 769.6,643.0 785.2,640.4 803.4,635.2 824.1,630.8 842.3,627.4 857.9,625.6 880.0,625.6 918.9,622.5 950.0,619.1 965.6,615.2 989.0,610.8 1009.8,605.6 1035.7,602.3 1087.6,602.3 1113.6,606.1 1139.5,609.3 1165.5,610.0 1181.9,607.3 1220.3,607.3 1225.2,609.2 1231.9,611.3 1237.6,614.2 1243.4,618.3 1249.2,621.7 1255.9,626.0 1261.7,629.9 1267.4,634.2 1273.2,638.5 1279.4,642.8 1285.7,646.7 1291.4,650.0 1297.2,653.9 1310.0,659.3 1322.9,664.5 1341.0,667.9 1359.3,669.7 1382.6,664.5 1400.8,659.3 1419.0,652.9 1432.0,645.0" fill="none" stroke="#ff0000" stroke-width="1" stroke-dasharray="3,3" shape-rendering="crispEdges" />
<line x1="1" y1="783.5" x2="1687" y2="783.5" stroke="#c0c0c0" stroke-width="1" stroke-dasharray="3,3" shape-rendering="crispEdges"/>
<line x1="1" y1="834.5" x2="1687" y2="834.5" stroke="#c0c0c0" stroke-width="1" stroke-dasharray="3,3" shape-rendering="crispEdges"/>
<line x1="1" y1="895.5" x2="1687" y2="895.5" stroke="#c0c0c0" stroke-width="1" stroke-dasharray="3,3" shape-rendering="crispEdges"/>
<polyline points="-6.0,882.0 2.5,868.2 10.5,872.1 18.5,878.1 26.5,878.1 34.5,888.4 42.5,872.1 50.5,867.2 58.5,869.0 66.5,866.9 74.5,850.0 82.5,847.7 90.5,838.4 98.5,830.0 106.5,834.5 114.5,835.2 122.5,836.5 130.5,839.9 138.5,833.4 146.5,839.1 154.5,839.1 162.5,835.2 170.5,831.4 178.5,824.9 186.5,824.9 194.5,824.9 202.5,827.5 210.5,823.6 218.5,828.2 226.5,828.8 234.5,832.1 242.5,831.4 250.5,836.5 258.5,850.0 266.5,846.1 274.5,844.3 282.5,847.4 290.5,844.3 298.5,840.4 306.5,845.1 314.5,843.5 322.5,821.5 330.5,836.5 338.5,841.0 346.5,843.0 354.5,845.1 362.5,858.1 370.5,850.0 378.5,841.7 386.5,838.4 394.5,839.1 402.5,850.0 410.5,853.9 418.5,848.7 426.5,858.1 434.5,861.2 442.5,846.1 450.5,835.2 458.5,839.1 466.5,840.4 474.5,845.1 482.5,841.7 490.5,839.9 498.5,829.5 506.5,832.1 514.5,829.5 522.5,826.2 530.5,824.9 538.5,814.0 546.5,797.6 554.5,797.6 562.5,794.2 570.5,788.5 578.5,786.4 586.5,804.6 594.5,814.5 602.5,824.9 610.5,837.3 618.5,838.4 626.5,837.3 634.5,825.4 642.5,831.4 650.5,839.1 658.5,846.9 666.5,852.1 674.5,853.4 682.5,838.4 690.5,841.7 698.5,844.3 706.5,841.0 714.5,848.2 722.5,846.9 730.5,846.1 738.5,833.2 746.5,833.2 754.5,831.4 762.5,830.0 770.5,829.5 778.5,830.6 786.5,822.3 794.5,818.4 802.5,819.7 810.5,822.3 818.5,822.3 826.5,828.0 834.5,826.2 842.5,829.5 850.5,827.5 858.5,833.2 866.5,829.5 874.5,815.0 882.5,810.6 890.5,807.2 898.5,815.0 906.5,823.6 914.5,822.3 922.5,821.0 930.5,819.2 938.5,812.4 946.5,802.0 954.5,791.6 962.5,790.6 970.5,790.6 978.5,801.0 986.5,797.6 994.5,796.3 1002.5,806.2 1010.5,809.3 1018.5,803.6 1026.5,800.2 1034.5,796.3 1042.5,792.4 1050.5,800.2 1058.5,798.4 1066.5,814.0 1074.5,808.8 1082.5,815.8 1090.5,809.8 1098.5,828.0 1106.5,827.5 1114.5,828.0 1122.5,812.4 1130.5,812.4 1138.5,804.1 1146.5,806.2 1154.5,804.1 1162.5,798.4 1170.5,796.3 1178.5,798.4 1186.5,817.6 1194.5,814.0 1202.5,819.2 1210.5,834.7 1218.5,858.1 1226.5,849.5 1234.5,864.3 1242.5,865.1 1250.5,862.5 1258.5,863.3 1266.5,863.3 1274.5,858.6 1282.5,861.2 1290.5,865.9 1298.5,865.1 1306.5,872.1 1314.5,874.2 1322.5,874.2 1330.5,863.3 1338.5,864.3 1346.5,858.1 1354.5,843.5 1362.5,840.4 1370.5,837.3 1378.5,839.1 1386.5,835.2 1394.5,832.6 1402.5,821.5 1410.5,836.5 1418.5,829.5 1426.5,825.4 1434.5,821.0" fill="none" stroke="#1e90ff" stroke-width="1" shape-rendering="crispEdges" />
<rect x="0" y="20" width="1688" height="1" fill="#000" shape-rendering="crispEdges"/>
<rect x="0" y="573" width="1688" height="1" fill="#000" shape-rendering="crispEdges"/>
<rect x="0" y="575" width="1688" height="1" fill="#000" shape-rendering="crispEdges"/>
<rect x="0" y="745" width="1688" height="1" fill="#000" shape-rendering="crispEdges"/>
<rect x="0" y="747" width="1688" height="1" fill="#000" shape-rendering="crispEdges"/>
<rect x="0" y="921" width="1688" height="1" fill="#000" shape-rendering="crispEdges"/>
<rect x="1687" y="20" width="1" height="554" fill="#000" shape-rendering="crispEdges"/>
<rect x="1687" y="575" width="1" height="171" fill="#000" shape-rendering="crispEdges"/>
<rect x="1687" y="747" width="1" height="175" fill="#000" shape-rendering="crispEdges"/>
<rect x="1688" y="42" width="3" height="1" fill="#000" shape-rendering="crispEdges"/>
<text x="1693.2" y="46" font-size="10.3" fill="#000" textLength="32.6" lengthAdjust="spacingAndGlyphs">142.900</text>
<rect x="1688" y="75" width="3" height="1" fill="#000" shape-rendering="crispEdges"/>
<text x="1693.2" y="79" font-size="10.3" fill="#000" textLength="32.6" lengthAdjust="spacingAndGlyphs">141.675</text>
<rect x="1688" y="108" width="3" height="1" fill="#000" shape-rendering="crispEdges"/>
<text x="1693.2" y="112" font-size="10.3" fill="#000" textLength="32.6" lengthAdjust="spacingAndGlyphs">140.485</text>
<rect x="1688" y="141" width="3" height="1" fill="#000" shape-rendering="crispEdges"/>
<text x="1693.2" y="145" font-size="10.3" fill="#000" textLength="32.6" lengthAdjust="spacingAndGlyphs">139.295</text>
<rect x="1688" y="174" width="3" height="1" fill="#000" shape-rendering="crispEdges"/>
<text x="1693.2" y="178" font-size="10.3" fill="#000" textLength="32.6" lengthAdjust="spacingAndGlyphs">138.105</text>
<rect x="1688" y="207" width="3" height="1" fill="#000" shape-rendering="crispEdges"/>
<text x="1693.2" y="211" font-size="10.3" fill="#000" textLength="32.6" lengthAdjust="spacingAndGlyphs">136.880</text>
<rect x="1688" y="240" width="3" height="1" fill="#000" shape-rendering="crispEdges"/>
<text x="1693.2" y="244" font-size="10.3" fill="#000" textLength="32.6" lengthAdjust="spacingAndGlyphs">135.690</text>
<rect x="1688" y="274" width="3" height="1" fill="#000" shape-rendering="crispEdges"/>
<text x="1693.2" y="278" font-size="10.3" fill="#000" textLength="32.6" lengthAdjust="spacingAndGlyphs">134.500</text>
<rect x="1688" y="307" width="3" height="1" fill="#000" shape-rendering="crispEdges"/>
<text x="1693.2" y="311" font-size="10.3" fill="#000" textLength="32.6" lengthAdjust="spacingAndGlyphs">133.275</text>
<rect x="1688" y="340" width="3" height="1" fill="#000" shape-rendering="crispEdges"/>
<text x="1693.2" y="344" font-size="10.3" fill="#000" textLength="32.6" lengthAdjust="spacingAndGlyphs">132.085</text>
<rect x="1688" y="372" width="3" height="1" fill="#000" shape-rendering="crispEdges"/>
<text x="1693.2" y="376" font-size="10.3" fill="#000" textLength="32.6" lengthAdjust="spacingAndGlyphs">130.895</text>
<rect x="1688" y="405" width="3" height="1" fill="#000" shape-rendering="crispEdges"/>
<text x="1693.2" y="409" font-size="10.3" fill="#000" textLength="32.6" lengthAdjust="spacingAndGlyphs">129.670</text>
<rect x="1688" y="438" width="3" height="1" fill="#000" shape-rendering="crispEdges"/>
<text x="1693.2" y="442" font-size="10.3" fill="#000" textLength="32.6" lengthAdjust="spacingAndGlyphs">128.480</text>
<rect x="1688" y="471" width="3" height="1" fill="#000" shape-rendering="crispEdges"/>
<text x="1693.2" y="475" font-size="10.3" fill="#000" textLength="32.6" lengthAdjust="spacingAndGlyphs">127.290</text>
<rect x="1688" y="504" width="3" height="1" fill="#000" shape-rendering="crispEdges"/>
<text x="1693.2" y="508" font-size="10.3" fill="#000" textLength="32.6" lengthAdjust="spacingAndGlyphs">126.065</text>
<rect x="1688" y="537" width="3" height="1" fill="#000" shape-rendering="crispEdges"/>
<text x="1693.2" y="541" font-size="10.3" fill="#000" textLength="32.6" lengthAdjust="spacingAndGlyphs">124.875</text>
<rect x="1688" y="570" width="3" height="1" fill="#000" shape-rendering="crispEdges"/>
<text x="1693.2" y="574" font-size="10.3" fill="#000" textLength="32.6" lengthAdjust="spacingAndGlyphs">123.685</text>
<rect x="1689" y="150" width="41" height="11" fill="#ff0000" shape-rendering="crispEdges"/>
<text x="1693.2" y="159" font-size="10.3" fill="#fff" textLength="32.6" lengthAdjust="spacingAndGlyphs">138.734</text>
<rect x="1689" y="168" width="41" height="11" fill="#ff0000" shape-rendering="crispEdges"/>
<text x="1693.2" y="177" font-size="10.3" fill="#fff" textLength="32.6" lengthAdjust="spacingAndGlyphs">138.080</text>
<rect x="1689" y="180" width="41" height="11" fill="#000000" shape-rendering="crispEdges"/>
<text x="1693.2" y="189" font-size="10.3" fill="#fff" textLength="32.6" lengthAdjust="spacingAndGlyphs">137.699</text>
<rect x="1689" y="197" width="41" height="11" fill="#32cd32" shape-rendering="crispEdges"/>
<text x="1693.2" y="206" font-size="10.3" fill="#fff" textLength="32.6" lengthAdjust="spacingAndGlyphs">137.026</text>
<rect x="1689" y="218" width="41" height="11" fill="#0000ff" shape-rendering="crispEdges"/>
<text x="1693.2" y="227" font-size="10.3" fill="#fff" textLength="32.6" lengthAdjust="spacingAndGlyphs">136.263</text>
<rect x="1689" y="236" width="41" height="11" fill="#0000ff" shape-rendering="crispEdges"/>
<text x="1693.2" y="245" font-size="10.3" fill="#fff" textLength="32.6" lengthAdjust="spacingAndGlyphs">135.609</text>
<rect x="1682.5" y="222.5" width="4" height="4" fill="#fff" stroke="#0000ff" shape-rendering="crispEdges"/>
<rect x="1688" y="575" width="2" height="1" fill="#000" shape-rendering="crispEdges"/>
<text x="1691.2" y="586.5" font-size="10.3" fill="#000" textLength="22.6" lengthAdjust="spacingAndGlyphs">1.894</text>
<rect x="1688" y="633" width="3" height="1" fill="#000" shape-rendering="crispEdges"/>
<text x="1691.3" y="637" font-size="10.3" fill="#000" textLength="17.2" lengthAdjust="spacingAndGlyphs">0.00</text>
<rect x="1688" y="745" width="2" height="1" fill="#000" shape-rendering="crispEdges"/>
<text x="1690.8" y="741.5" font-size="10.3" fill="#000" textLength="31.4" lengthAdjust="spacingAndGlyphs">-3.7183</text>
<rect x="1688" y="747" width="2" height="1" fill="#000" shape-rendering="crispEdges"/>
<text x="1691.3" y="758.5" font-size="10.3" fill="#000" textLength="15.4" lengthAdjust="spacingAndGlyphs">100</text>
<text x="1690.8" y="787" font-size="10.3" fill="#000" textLength="10.4" lengthAdjust="spacingAndGlyphs">80</text>
<text x="1690.8" y="838" font-size="10.3" fill="#000" textLength="10.4" lengthAdjust="spacingAndGlyphs">50</text>
<text x="1691.3" y="899" font-size="10.3" fill="#000" textLength="10.4" lengthAdjust="spacingAndGlyphs">15</text>
<text x="1691.3" y="918" font-size="10.3" fill="#000" textLength="5.4" lengthAdjust="spacingAndGlyphs">0</text>
<rect x="1688" y="921" width="2" height="1" fill="#000" shape-rendering="crispEdges"/>
<text x="-6" y="934" font-size="9.8" fill="#000" textLength="49.8" lengthAdjust="spacingAndGlyphs">12 Mar 2020</text>
<rect x="58" y="922" width="1" height="4" fill="#000" shape-rendering="crispEdges"/>
<text x="58" y="934" font-size="9.8" fill="#000" textLength="49.8" lengthAdjust="spacingAndGlyphs">22 Mar 2020</text>
<rect x="122" y="922" width="1" height="4" fill="#000" shape-rendering="crispEdges"/>
<text x="122" y="934" font-size="9.8" fill="#000" textLength="49.8" lengthAdjust="spacingAndGlyphs">31 Mar 2020</text>
<rect x="186" y="922" width="1" height="4" fill="#000" shape-rendering="crispEdges"/>
<text x="186" y="934" font-size="9.8" fill="#000" textLength="43.0" lengthAdjust="spacingAndGlyphs">9 Apr 2020</text>
<rect x="250" y="922" width="1" height="4" fill="#000" shape-rendering="crispEdges"/>
<text x="250" y="934" font-size="9.8" fill="#000" textLength="48.0" lengthAdjust="spacingAndGlyphs">20 Apr 2020</text>
<rect x="314" y="922" width="1" height="4" fill="#000" shape-rendering="crispEdges"/>
<text x="314" y="934" font-size="9.8" fill="#000" textLength="48.0" lengthAdjust="spacingAndGlyphs">29 Apr 2020</text>
<rect x="378" y="922" width="1" height="4" fill="#000" shape-rendering="crispEdges"/>
<text x="378" y="934" font-size="9.8" fill="#000" textLength="46.5" lengthAdjust="spacingAndGlyphs">8 May 2020</text>
<rect x="442" y="922" width="1" height="4" fill="#000" shape-rendering="crispEdges"/>
<text x="442" y="934" font-size="9.8" fill="#000" textLength="51.3" lengthAdjust="spacingAndGlyphs">18 May 2020</text>
<rect x="506" y="922" width="1" height="4" fill="#000" shape-rendering="crispEdges"/>
<text x="506" y="934" font-size="9.8" fill="#000" textLength="51.3" lengthAdjust="spacingAndGlyphs">27 May 2020</text>
<rect x="570" y="922" width="1" height="4" fill="#000" shape-rendering="crispEdges"/>
<text x="570" y="934" font-size="9.8" fill="#000" textLength="43.9" lengthAdjust="spacingAndGlyphs">5 Jun 2020</text>
<rect x="634" y="922" width="1" height="4" fill="#000" shape-rendering="crispEdges"/>
<text x="634" y="934" font-size="9.8" fill="#000" textLength="48.9" lengthAdjust="spacingAndGlyphs">15 Jun 2020</text>
<rect x="698" y="922" width="1" height="4" fill="#000" shape-rendering="crispEdges"/>
<text x="698" y="934" font-size="9.8" fill="#000" textLength="48.9" lengthAdjust="spacingAndGlyphs">24 Jun 2020</text>
<rect x="762" y="922" width="1" height="4" fill="#000" shape-rendering="crispEdges"/>
<text x="762" y="934" font-size="9.8" fill="#000" textLength="41.0" lengthAdjust="spacingAndGlyphs">3 Jul 2020</text>
<rect x="826" y="922" width="1" height="4" fill="#000" shape-rendering="crispEdges"/>
<text x="826" y="934" font-size="9.8" fill="#000" textLength="45.9" lengthAdjust="spacingAndGlyphs">13 Jul 2020</text>
<rect x="890" y="922" width="1" height="4" fill="#000" shape-rendering="crispEdges"/>
<text x="890" y="934" font-size="9.8" fill="#000" textLength="45.9" lengthAdjust="spacingAndGlyphs">22 Jul 2020</text>
<rect x="954" y="922" width="1" height="4" fill="#000" shape-rendering="crispEdges"/>
<text x="954" y="934" font-size="9.8" fill="#000" textLength="45.9" lengthAdjust="spacingAndGlyphs">31 Jul 2020</text>
<rect x="1018" y="922" width="1" height="4" fill="#000" shape-rendering="crispEdges"/>
<text x="1018" y="934" font-size="9.8" fill="#000" textLength="49.9" lengthAdjust="spacingAndGlyphs">10 Aug 2020</text>
<rect x="1082" y="922" width="1" height="4" fill="#000" shape-rendering="crispEdges"/>
<text x="1082" y="934" font-size="9.8" fill="#000" textLength="49.9" lengthAdjust="spacingAndGlyphs">19 Aug 2020</text>
<rect x="1146" y="922" width="1" height="4" fill="#000" shape-rendering="crispEdges"/>
<text x="1146" y="934" font-size="9.8" fill="#000" textLength="49.9" lengthAdjust="spacingAndGlyphs">28 Aug 2020</text>
<rect x="1210" y="922" width="1" height="4" fill="#000" shape-rendering="crispEdges"/>
<text x="1210" y="934" font-size="9.8" fill="#000" textLength="45.4" lengthAdjust="spacingAndGlyphs">7 Sep 2020</text>
<rect x="1274" y="922" width="1" height="4" fill="#000" shape-rendering="crispEdges"/>
<text x="1274" y="934" font-size="9.8" fill="#000" textLength="50.4" lengthAdjust="spacingAndGlyphs">16 Sep 2020</text>
<rect x="1338" y="922" width="1" height="4" fill="#000" shape-rendering="crispEdges"/>
<text x="1338" y="934" font-size="9.8" fill="#000" textLength="50.4" lengthAdjust="spacingAndGlyphs">25 Sep 2020</text>
<rect x="1402" y="922" width="1" height="4" fill="#000" shape-rendering="crispEdges"/>
<text x="1402" y="934" font-size="9.8" fill="#000" textLength="43.5" lengthAdjust="spacingAndGlyphs">5 Oct 2020</text>
<text x="-1" y="588" font-size="9.8" fill="#000" textLength="134" lengthAdjust="spacingAndGlyphs">MACD(12,26,9) -0.0009 -0.4018</text>
<text x="-1" y="760" font-size="9.8" fill="#000" textLength="67.5" lengthAdjust="spacingAndGlyphs">RSI(14) 58.6275</text>
<line x1="1310.5" y1="303.5" x2="1436.5" y2="202.25" stroke="#ff0000" stroke-width="3.2" stroke-linecap="square"/>
<polygon points="1446,195.5 1433.5,198 1439.5,206.5" fill="#ff0000" stroke="#ff0000" stroke-width="1"/>
<line x1="1336.5" y1="680" x2="1484.25" y2="622.5" stroke="#ff0000" stroke-width="3.2" stroke-linecap="square"/>
<polygon points="1495.5,618.5 1482,617.5 1486.5,627.5" fill="#ff0000" stroke="#ff0000" stroke-width="1"/>
<line x1="1326" y1="877" x2="1428.0" y2="829.75" stroke="#ff0000" stroke-width="3.2" stroke-linecap="square"/>
<polygon points="1439.5,825.5 1425.5,825.5 1430.5,834" fill="#ff0000" stroke="#ff0000" stroke-width="1"/>
<g transform="translate(1472,219.5) scale(1.0)" fill="none" stroke="#00ff00" stroke-width="1.6" stroke-linecap="square"><path d="M7,0 L1,7"/><path d="M5,3 L12,3 L3,10"/><path d="M6,5 L9,7"/><path d="M10,8 L1,18"/><path d="M8,10 L17,10 L4,19"/><path d="M8,13 L11,15"/></g><g transform="translate(1494,219.5) scale(1.0)" fill="none" stroke="#00ff00" stroke-width="1.6" stroke-linecap="square"><path d="M9,0 L10,2"/><path d="M1,6 L1,3 L18,3 L18,6"/><path d="M7,5 L3,9"/><path d="M11,5 L16,9"/><path d="M4,11 L15,11"/><path d="M9.5,11 L9.5,18"/><path d="M1,18 L18,18"/></g><g transform="translate(1517,219.5) scale(1.0)" fill="none" stroke="#00ff00" stroke-width="1.6" stroke-linecap="square"><path d="M0,4 L8,4"/><path d="M4,0 L1,11 L8,10"/><path d="M0,14 L8,13"/><path d="M4,7 L4,19"/><path d="M10,4 L18,4"/><path d="M14,0 L12,8"/><path d="M9,8 L19,8"/><path d="M12,8 L10,13 L17,13 L14,17"/><path d="M13,16 L16,19"/></g><g transform="translate(1540,219.5) scale(1.0)" fill="none" stroke="#00ff00" stroke-width="1.6" stroke-linecap="square"><path d="M0,6 L7,6"/><path d="M4,0 L4,18 L2,17"/><path d="M0,13 L7,10"/><path d="M17,0 L10,2 L10,11 L8,18"/><path d="M10,7 L19,7"/><path d="M15,7 L15,19"/></g><g transform="translate(1563,219.5) scale(1.0)" fill="none" stroke="#00ff00" stroke-width="1.6" stroke-linecap="square"><path d="M9,0 L9,8"/><path d="M9,4 L16,4"/><path d="M3,8 L3,13"/><path d="M3,8 L16,8 L16,13"/><path d="M3,13 L16,13"/><path d="M2,16 L0,19"/><path d="M6,16 L7,19"/><path d="M11,16 L12,19"/><path d="M16,16 L19,19"/></g>
<polygon points="0,26 4,30 0,30" fill="#000"/>
<text x="9" y="32" font-size="9.5" fill="#000">GBPJPY-,Daily</text>
<text x="78" y="32" font-size="9.2" fill="#000">137.156 137.760 136.792 137.699</text>
<rect x="0" y="38" width="216" height="66" fill="#fff"/>
<rect x="0" y="40" width="49" height="25" fill="url(#gSell)"/>
<rect x="0" y="40" width="49" height="1" fill="#2020b8"/>
<rect x="1" y="63" width="44" height="1" fill="#2424c0"/>
<rect x="1" y="64" width="44" height="1" fill="#7a7af8"/>
<text x="9" y="56" font-size="11" fill="#fff">SELL</text>
<rect x="50" y="40" width="115" height="24" fill="#f0f0f0"/>
<rect x="51.5" y="41.5" width="111" height="20" fill="#fff" stroke="#b4b4b4"/>
<rect x="52" y="42" width="20" height="19" fill="url(#gBtn)" stroke="#c8c8c8"/>
<rect x="141" y="42" width="20" height="19" fill="url(#gBtn)" stroke="#c8c8c8"/>
<polygon points="59,49 65,49 62,52" fill="#6070c0"/>
<polygon points="148,52 154,52 151,49" fill="#6070c0"/>
<text x="137" y="56" font-size="11" fill="#000" text-anchor="end">1.00</text>
<rect x="164" y="40" width="52" height="25" fill="url(#gSell)"/>
<rect x="164" y="40" width="52" height="1" fill="#2020b8"/>
<rect x="168" y="63" width="44" height="1" fill="#2424c0"/>
<rect x="168" y="64" width="44" height="1" fill="#7a7af8"/>
<text x="177" y="56" font-size="11" fill="#fff">BUY</text>
<rect x="0" y="64" width="106" height="40" fill="url(#gPrice)"/>
<rect x="108" y="64" width="108" height="40" fill="url(#gPrice)"/>
<text x="20" y="95" font-size="12" font-weight="bold" fill="#fff">137</text>
<text x="44" y="95" font-size="33" fill="#fff">69</text>
<text x="84" y="79" font-size="11" font-weight="bold" fill="#fff">9</text>
<text x="130" y="95" font-size="12" font-weight="bold" fill="#fff">137</text>
<text x="155" y="95" font-size="33" fill="#fff">73</text>
<text x="194" y="79" font-size="11" font-weight="bold" fill="#fff">4</text>
</svg></body></html>
